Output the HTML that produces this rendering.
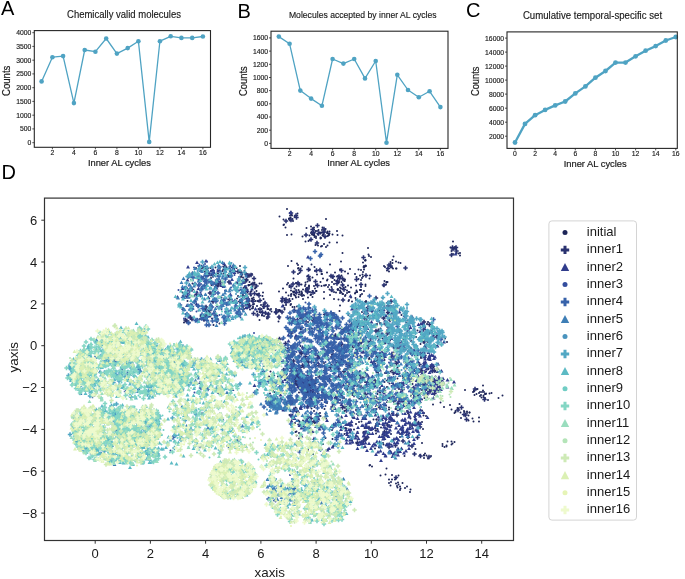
<!DOCTYPE html>
<html><head><meta charset="utf-8"><style>
html,body{margin:0;padding:0;background:#fff;}
svg{display:block;font-family:"Liberation Sans", sans-serif;filter:blur(0.35px);}
</style></head><body>
<svg width="685" height="579" viewBox="0 0 685 579">
<rect width="685" height="579" fill="#fff"/>
<path d="M41.6 81.4 L52.4 57.2 L63.1 56.1 L73.9 103.1 L84.7 50.0 L95.4 51.7 L106.2 38.5 L116.9 53.6 L127.7 48.1 L138.4 41.2 L149.2 141.9 L159.9 41.2 L170.7 36.3 L181.4 37.9 L192.2 37.9 L202.9 36.5" fill="none" stroke="#4fa3c3" stroke-width="1.3" stroke-linejoin="round"/>
<circle cx="41.6" cy="81.4" r="2.3" fill="#4fa3c3"/>
<circle cx="52.4" cy="57.2" r="2.3" fill="#4fa3c3"/>
<circle cx="63.1" cy="56.1" r="2.3" fill="#4fa3c3"/>
<circle cx="73.9" cy="103.1" r="2.3" fill="#4fa3c3"/>
<circle cx="84.7" cy="50.0" r="2.3" fill="#4fa3c3"/>
<circle cx="95.4" cy="51.7" r="2.3" fill="#4fa3c3"/>
<circle cx="106.2" cy="38.5" r="2.3" fill="#4fa3c3"/>
<circle cx="116.9" cy="53.6" r="2.3" fill="#4fa3c3"/>
<circle cx="127.7" cy="48.1" r="2.3" fill="#4fa3c3"/>
<circle cx="138.4" cy="41.2" r="2.3" fill="#4fa3c3"/>
<circle cx="149.2" cy="141.9" r="2.3" fill="#4fa3c3"/>
<circle cx="159.9" cy="41.2" r="2.3" fill="#4fa3c3"/>
<circle cx="170.7" cy="36.3" r="2.3" fill="#4fa3c3"/>
<circle cx="181.4" cy="37.9" r="2.3" fill="#4fa3c3"/>
<circle cx="192.2" cy="37.9" r="2.3" fill="#4fa3c3"/>
<circle cx="202.9" cy="36.5" r="2.3" fill="#4fa3c3"/>
<rect x="34.3" y="30.6" width="176.2" height="116.70000000000002" fill="none" stroke="#262626" stroke-width="1.1"/>
<path d="M52.4 147.3 v2" stroke="#262626" stroke-width="0.8"/>
<text x="52.4" y="155.0" font-size="6.8" text-anchor="middle" fill="#1a1a1a" stroke="#1a1a1a" stroke-width="0.15">2</text>
<path d="M73.9 147.3 v2" stroke="#262626" stroke-width="0.8"/>
<text x="73.9" y="155.0" font-size="6.8" text-anchor="middle" fill="#1a1a1a" stroke="#1a1a1a" stroke-width="0.15">4</text>
<path d="M95.4 147.3 v2" stroke="#262626" stroke-width="0.8"/>
<text x="95.4" y="155.0" font-size="6.8" text-anchor="middle" fill="#1a1a1a" stroke="#1a1a1a" stroke-width="0.15">6</text>
<path d="M116.9 147.3 v2" stroke="#262626" stroke-width="0.8"/>
<text x="116.9" y="155.0" font-size="6.8" text-anchor="middle" fill="#1a1a1a" stroke="#1a1a1a" stroke-width="0.15">8</text>
<path d="M138.4 147.3 v2" stroke="#262626" stroke-width="0.8"/>
<text x="138.4" y="155.0" font-size="6.8" text-anchor="middle" fill="#1a1a1a" stroke="#1a1a1a" stroke-width="0.15">10</text>
<path d="M159.9 147.3 v2" stroke="#262626" stroke-width="0.8"/>
<text x="159.9" y="155.0" font-size="6.8" text-anchor="middle" fill="#1a1a1a" stroke="#1a1a1a" stroke-width="0.15">12</text>
<path d="M181.4 147.3 v2" stroke="#262626" stroke-width="0.8"/>
<text x="181.4" y="155.0" font-size="6.8" text-anchor="middle" fill="#1a1a1a" stroke="#1a1a1a" stroke-width="0.15">14</text>
<path d="M202.9 147.3 v2" stroke="#262626" stroke-width="0.8"/>
<text x="202.9" y="155.0" font-size="6.8" text-anchor="middle" fill="#1a1a1a" stroke="#1a1a1a" stroke-width="0.15">16</text>
<path d="M34.3 142.7 h-2" stroke="#262626" stroke-width="0.8"/>
<text x="31.3" y="145.1" font-size="6.8" text-anchor="end" fill="#1a1a1a" stroke="#1a1a1a" stroke-width="0.15">0</text>
<path d="M34.3 128.9 h-2" stroke="#262626" stroke-width="0.8"/>
<text x="31.3" y="131.3" font-size="6.8" text-anchor="end" fill="#1a1a1a" stroke="#1a1a1a" stroke-width="0.15">500</text>
<path d="M34.3 115.2 h-2" stroke="#262626" stroke-width="0.8"/>
<text x="31.3" y="117.6" font-size="6.8" text-anchor="end" fill="#1a1a1a" stroke="#1a1a1a" stroke-width="0.15">1000</text>
<path d="M34.3 101.4 h-2" stroke="#262626" stroke-width="0.8"/>
<text x="31.3" y="103.8" font-size="6.8" text-anchor="end" fill="#1a1a1a" stroke="#1a1a1a" stroke-width="0.15">1500</text>
<path d="M34.3 87.7 h-2" stroke="#262626" stroke-width="0.8"/>
<text x="31.3" y="90.1" font-size="6.8" text-anchor="end" fill="#1a1a1a" stroke="#1a1a1a" stroke-width="0.15">2000</text>
<path d="M34.3 73.9 h-2" stroke="#262626" stroke-width="0.8"/>
<text x="31.3" y="76.3" font-size="6.8" text-anchor="end" fill="#1a1a1a" stroke="#1a1a1a" stroke-width="0.15">2500</text>
<path d="M34.3 60.2 h-2" stroke="#262626" stroke-width="0.8"/>
<text x="31.3" y="62.6" font-size="6.8" text-anchor="end" fill="#1a1a1a" stroke="#1a1a1a" stroke-width="0.15">3000</text>
<path d="M34.3 46.4 h-2" stroke="#262626" stroke-width="0.8"/>
<text x="31.3" y="48.8" font-size="6.8" text-anchor="end" fill="#1a1a1a" stroke="#1a1a1a" stroke-width="0.15">3500</text>
<path d="M34.3 32.7 h-2" stroke="#262626" stroke-width="0.8"/>
<text x="31.3" y="35.1" font-size="6.8" text-anchor="end" fill="#1a1a1a" stroke="#1a1a1a" stroke-width="0.15">4000</text>
<text x="124.0" y="18.4" font-size="10" text-anchor="middle" textLength="113.9" lengthAdjust="spacingAndGlyphs" fill="#1a1a1a" stroke="#1a1a1a" stroke-width="0.15">Chemically valid molecules</text>
<text transform="translate(10.3,80.8) rotate(-90)" font-size="10.2" text-anchor="middle" textLength="30.4" lengthAdjust="spacingAndGlyphs" fill="#1a1a1a" stroke="#1a1a1a" stroke-width="0.2">Counts</text>
<text x="119.4" y="166.4" font-size="9.9" text-anchor="middle" textLength="63.0" lengthAdjust="spacingAndGlyphs" fill="#1a1a1a" stroke="#1a1a1a" stroke-width="0.2">Inner AL cycles</text>
<text x="1.0" y="14.5" font-size="20" fill="#000">A</text>
<path d="M278.8 36.6 L289.6 43.8 L300.3 90.6 L311.1 98.6 L321.9 105.8 L332.6 59.0 L343.4 63.6 L354.2 59.0 L365.0 78.4 L375.7 61.0 L386.5 142.7 L397.3 74.8 L408.0 90.0 L418.8 97.2 L429.6 91.3 L440.4 107.1" fill="none" stroke="#4fa3c3" stroke-width="1.3" stroke-linejoin="round"/>
<circle cx="278.8" cy="36.6" r="2.3" fill="#4fa3c3"/>
<circle cx="289.6" cy="43.8" r="2.3" fill="#4fa3c3"/>
<circle cx="300.3" cy="90.6" r="2.3" fill="#4fa3c3"/>
<circle cx="311.1" cy="98.6" r="2.3" fill="#4fa3c3"/>
<circle cx="321.9" cy="105.8" r="2.3" fill="#4fa3c3"/>
<circle cx="332.6" cy="59.0" r="2.3" fill="#4fa3c3"/>
<circle cx="343.4" cy="63.6" r="2.3" fill="#4fa3c3"/>
<circle cx="354.2" cy="59.0" r="2.3" fill="#4fa3c3"/>
<circle cx="365.0" cy="78.4" r="2.3" fill="#4fa3c3"/>
<circle cx="375.7" cy="61.0" r="2.3" fill="#4fa3c3"/>
<circle cx="386.5" cy="142.7" r="2.3" fill="#4fa3c3"/>
<circle cx="397.3" cy="74.8" r="2.3" fill="#4fa3c3"/>
<circle cx="408.0" cy="90.0" r="2.3" fill="#4fa3c3"/>
<circle cx="418.8" cy="97.2" r="2.3" fill="#4fa3c3"/>
<circle cx="429.6" cy="91.3" r="2.3" fill="#4fa3c3"/>
<circle cx="440.4" cy="107.1" r="2.3" fill="#4fa3c3"/>
<rect x="271" y="31.2" width="177" height="117.2" fill="none" stroke="#262626" stroke-width="1.1"/>
<path d="M289.6 148.4 v2" stroke="#262626" stroke-width="0.8"/>
<text x="289.6" y="156.1" font-size="6.8" text-anchor="middle" fill="#1a1a1a" stroke="#1a1a1a" stroke-width="0.15">2</text>
<path d="M311.1 148.4 v2" stroke="#262626" stroke-width="0.8"/>
<text x="311.1" y="156.1" font-size="6.8" text-anchor="middle" fill="#1a1a1a" stroke="#1a1a1a" stroke-width="0.15">4</text>
<path d="M332.6 148.4 v2" stroke="#262626" stroke-width="0.8"/>
<text x="332.6" y="156.1" font-size="6.8" text-anchor="middle" fill="#1a1a1a" stroke="#1a1a1a" stroke-width="0.15">6</text>
<path d="M354.2 148.4 v2" stroke="#262626" stroke-width="0.8"/>
<text x="354.2" y="156.1" font-size="6.8" text-anchor="middle" fill="#1a1a1a" stroke="#1a1a1a" stroke-width="0.15">8</text>
<path d="M375.7 148.4 v2" stroke="#262626" stroke-width="0.8"/>
<text x="375.7" y="156.1" font-size="6.8" text-anchor="middle" fill="#1a1a1a" stroke="#1a1a1a" stroke-width="0.15">10</text>
<path d="M397.3 148.4 v2" stroke="#262626" stroke-width="0.8"/>
<text x="397.3" y="156.1" font-size="6.8" text-anchor="middle" fill="#1a1a1a" stroke="#1a1a1a" stroke-width="0.15">12</text>
<path d="M418.8 148.4 v2" stroke="#262626" stroke-width="0.8"/>
<text x="418.8" y="156.1" font-size="6.8" text-anchor="middle" fill="#1a1a1a" stroke="#1a1a1a" stroke-width="0.15">14</text>
<path d="M440.4 148.4 v2" stroke="#262626" stroke-width="0.8"/>
<text x="440.4" y="156.1" font-size="6.8" text-anchor="middle" fill="#1a1a1a" stroke="#1a1a1a" stroke-width="0.15">16</text>
<path d="M271 143.4 h-2" stroke="#262626" stroke-width="0.8"/>
<text x="268.0" y="145.8" font-size="6.8" text-anchor="end" fill="#1a1a1a" stroke="#1a1a1a" stroke-width="0.15">0</text>
<path d="M271 130.2 h-2" stroke="#262626" stroke-width="0.8"/>
<text x="268.0" y="132.6" font-size="6.8" text-anchor="end" fill="#1a1a1a" stroke="#1a1a1a" stroke-width="0.15">200</text>
<path d="M271 117.0 h-2" stroke="#262626" stroke-width="0.8"/>
<text x="268.0" y="119.4" font-size="6.8" text-anchor="end" fill="#1a1a1a" stroke="#1a1a1a" stroke-width="0.15">400</text>
<path d="M271 103.8 h-2" stroke="#262626" stroke-width="0.8"/>
<text x="268.0" y="106.2" font-size="6.8" text-anchor="end" fill="#1a1a1a" stroke="#1a1a1a" stroke-width="0.15">600</text>
<path d="M271 90.6 h-2" stroke="#262626" stroke-width="0.8"/>
<text x="268.0" y="93.0" font-size="6.8" text-anchor="end" fill="#1a1a1a" stroke="#1a1a1a" stroke-width="0.15">800</text>
<path d="M271 77.5 h-2" stroke="#262626" stroke-width="0.8"/>
<text x="268.0" y="79.9" font-size="6.8" text-anchor="end" fill="#1a1a1a" stroke="#1a1a1a" stroke-width="0.15">1000</text>
<path d="M271 64.3 h-2" stroke="#262626" stroke-width="0.8"/>
<text x="268.0" y="66.7" font-size="6.8" text-anchor="end" fill="#1a1a1a" stroke="#1a1a1a" stroke-width="0.15">1200</text>
<path d="M271 51.1 h-2" stroke="#262626" stroke-width="0.8"/>
<text x="268.0" y="53.5" font-size="6.8" text-anchor="end" fill="#1a1a1a" stroke="#1a1a1a" stroke-width="0.15">1400</text>
<path d="M271 37.9 h-2" stroke="#262626" stroke-width="0.8"/>
<text x="268.0" y="40.3" font-size="6.8" text-anchor="end" fill="#1a1a1a" stroke="#1a1a1a" stroke-width="0.15">1600</text>
<text x="362.8" y="18.3" font-size="9.4" text-anchor="middle" textLength="147.7" lengthAdjust="spacingAndGlyphs" fill="#1a1a1a" stroke="#1a1a1a" stroke-width="0.15">Molecules accepted by inner AL cycles</text>
<text transform="translate(247.3,81.1) rotate(-90)" font-size="10.2" text-anchor="middle" textLength="29.8" lengthAdjust="spacingAndGlyphs" fill="#1a1a1a" stroke="#1a1a1a" stroke-width="0.2">Counts</text>
<text x="358.6" y="166.2" font-size="9.9" text-anchor="middle" textLength="62.9" lengthAdjust="spacingAndGlyphs" fill="#1a1a1a" stroke="#1a1a1a" stroke-width="0.2">Inner AL cycles</text>
<text x="237.6" y="17.5" font-size="20" fill="#000">B</text>
<path d="M515.0 142.5 L525.0 123.9 L535.1 115.2 L545.1 109.9 L555.2 105.4 L565.2 101.5 L575.3 93.4 L585.4 86.4 L595.4 77.7 L605.5 71.0 L615.5 62.6 L625.5 62.6 L635.6 56.3 L645.6 50.7 L655.7 46.1 L665.8 40.5 L675.8 37.0" fill="none" stroke="#4fa3c3" stroke-width="2.3" stroke-linejoin="round"/>
<circle cx="515.0" cy="142.5" r="2.4" fill="#4fa3c3"/>
<circle cx="525.0" cy="123.9" r="2.4" fill="#4fa3c3"/>
<circle cx="535.1" cy="115.2" r="2.4" fill="#4fa3c3"/>
<circle cx="545.1" cy="109.9" r="2.4" fill="#4fa3c3"/>
<circle cx="555.2" cy="105.4" r="2.4" fill="#4fa3c3"/>
<circle cx="565.2" cy="101.5" r="2.4" fill="#4fa3c3"/>
<circle cx="575.3" cy="93.4" r="2.4" fill="#4fa3c3"/>
<circle cx="585.4" cy="86.4" r="2.4" fill="#4fa3c3"/>
<circle cx="595.4" cy="77.7" r="2.4" fill="#4fa3c3"/>
<circle cx="605.5" cy="71.0" r="2.4" fill="#4fa3c3"/>
<circle cx="615.5" cy="62.6" r="2.4" fill="#4fa3c3"/>
<circle cx="625.5" cy="62.6" r="2.4" fill="#4fa3c3"/>
<circle cx="635.6" cy="56.3" r="2.4" fill="#4fa3c3"/>
<circle cx="645.6" cy="50.7" r="2.4" fill="#4fa3c3"/>
<circle cx="655.7" cy="46.1" r="2.4" fill="#4fa3c3"/>
<circle cx="665.8" cy="40.5" r="2.4" fill="#4fa3c3"/>
<circle cx="675.8" cy="37.0" r="2.4" fill="#4fa3c3"/>
<rect x="507" y="31.9" width="170.29999999999995" height="116.5" fill="none" stroke="#262626" stroke-width="1.1"/>
<path d="M515.0 148.4 v2" stroke="#262626" stroke-width="0.8"/>
<text x="515.0" y="156.1" font-size="6.8" text-anchor="middle" fill="#1a1a1a" stroke="#1a1a1a" stroke-width="0.15">0</text>
<path d="M535.1 148.4 v2" stroke="#262626" stroke-width="0.8"/>
<text x="535.1" y="156.1" font-size="6.8" text-anchor="middle" fill="#1a1a1a" stroke="#1a1a1a" stroke-width="0.15">2</text>
<path d="M555.2 148.4 v2" stroke="#262626" stroke-width="0.8"/>
<text x="555.2" y="156.1" font-size="6.8" text-anchor="middle" fill="#1a1a1a" stroke="#1a1a1a" stroke-width="0.15">4</text>
<path d="M575.3 148.4 v2" stroke="#262626" stroke-width="0.8"/>
<text x="575.3" y="156.1" font-size="6.8" text-anchor="middle" fill="#1a1a1a" stroke="#1a1a1a" stroke-width="0.15">6</text>
<path d="M595.4 148.4 v2" stroke="#262626" stroke-width="0.8"/>
<text x="595.4" y="156.1" font-size="6.8" text-anchor="middle" fill="#1a1a1a" stroke="#1a1a1a" stroke-width="0.15">8</text>
<path d="M615.5 148.4 v2" stroke="#262626" stroke-width="0.8"/>
<text x="615.5" y="156.1" font-size="6.8" text-anchor="middle" fill="#1a1a1a" stroke="#1a1a1a" stroke-width="0.15">10</text>
<path d="M635.6 148.4 v2" stroke="#262626" stroke-width="0.8"/>
<text x="635.6" y="156.1" font-size="6.8" text-anchor="middle" fill="#1a1a1a" stroke="#1a1a1a" stroke-width="0.15">12</text>
<path d="M655.7 148.4 v2" stroke="#262626" stroke-width="0.8"/>
<text x="655.7" y="156.1" font-size="6.8" text-anchor="middle" fill="#1a1a1a" stroke="#1a1a1a" stroke-width="0.15">14</text>
<path d="M675.8 148.4 v2" stroke="#262626" stroke-width="0.8"/>
<text x="675.8" y="156.1" font-size="6.8" text-anchor="middle" fill="#1a1a1a" stroke="#1a1a1a" stroke-width="0.15">16</text>
<path d="M507 136.2 h-2" stroke="#262626" stroke-width="0.8"/>
<text x="504.0" y="138.6" font-size="6.8" text-anchor="end" fill="#1a1a1a" stroke="#1a1a1a" stroke-width="0.15">2000</text>
<path d="M507 122.2 h-2" stroke="#262626" stroke-width="0.8"/>
<text x="504.0" y="124.6" font-size="6.8" text-anchor="end" fill="#1a1a1a" stroke="#1a1a1a" stroke-width="0.15">4000</text>
<path d="M507 108.2 h-2" stroke="#262626" stroke-width="0.8"/>
<text x="504.0" y="110.6" font-size="6.8" text-anchor="end" fill="#1a1a1a" stroke="#1a1a1a" stroke-width="0.15">6000</text>
<path d="M507 94.1 h-2" stroke="#262626" stroke-width="0.8"/>
<text x="504.0" y="96.5" font-size="6.8" text-anchor="end" fill="#1a1a1a" stroke="#1a1a1a" stroke-width="0.15">8000</text>
<path d="M507 80.1 h-2" stroke="#262626" stroke-width="0.8"/>
<text x="504.0" y="82.5" font-size="6.8" text-anchor="end" fill="#1a1a1a" stroke="#1a1a1a" stroke-width="0.15">10000</text>
<path d="M507 66.1 h-2" stroke="#262626" stroke-width="0.8"/>
<text x="504.0" y="68.5" font-size="6.8" text-anchor="end" fill="#1a1a1a" stroke="#1a1a1a" stroke-width="0.15">12000</text>
<path d="M507 52.1 h-2" stroke="#262626" stroke-width="0.8"/>
<text x="504.0" y="54.5" font-size="6.8" text-anchor="end" fill="#1a1a1a" stroke="#1a1a1a" stroke-width="0.15">14000</text>
<path d="M507 38.1 h-2" stroke="#262626" stroke-width="0.8"/>
<text x="504.0" y="40.5" font-size="6.8" text-anchor="end" fill="#1a1a1a" stroke="#1a1a1a" stroke-width="0.15">16000</text>
<text x="592.5" y="18.6" font-size="10" text-anchor="middle" textLength="139.2" lengthAdjust="spacingAndGlyphs" fill="#1a1a1a" stroke="#1a1a1a" stroke-width="0.15">Cumulative temporal-specific set</text>
<text transform="translate(478.8,81.3) rotate(-90)" font-size="10.2" text-anchor="middle" textLength="29.5" lengthAdjust="spacingAndGlyphs" fill="#1a1a1a" stroke="#1a1a1a" stroke-width="0.2">Counts</text>
<text x="595.2" y="166.8" font-size="9.9" text-anchor="middle" textLength="63.1" lengthAdjust="spacingAndGlyphs" fill="#1a1a1a" stroke="#1a1a1a" stroke-width="0.2">Inner AL cycles</text>
<text x="466.0" y="16.7" font-size="20" fill="#000">C</text>
<defs>
<marker id="k0" markerUnits="userSpaceOnUse" markerWidth="1" markerHeight="1" refX="0" refY="0" overflow="visible"><circle r="2.0" fill="#1d2558"/></marker>
<marker id="k1" markerUnits="userSpaceOnUse" markerWidth="1" markerHeight="1" refX="0" refY="0" overflow="visible"><path d="M-4.4 -1.55H4.4V1.55H-4.4zM-1.55 -4.4H1.55V4.4H-1.55z" fill="#2a3270"/></marker>
<marker id="k2" markerUnits="userSpaceOnUse" markerWidth="1" markerHeight="1" refX="0" refY="0" overflow="visible"><path d="M0 -3.85L3.9 3.15H-3.9z" fill="#303c8c"/></marker>
<marker id="k3" markerUnits="userSpaceOnUse" markerWidth="1" markerHeight="1" refX="0" refY="0" overflow="visible"><circle r="2.0" fill="#344e9e"/></marker>
<marker id="k4" markerUnits="userSpaceOnUse" markerWidth="1" markerHeight="1" refX="0" refY="0" overflow="visible"><path d="M-4.4 -1.55H4.4V1.55H-4.4zM-1.55 -4.4H1.55V4.4H-1.55z" fill="#3762aa"/></marker>
<marker id="k5" markerUnits="userSpaceOnUse" markerWidth="1" markerHeight="1" refX="0" refY="0" overflow="visible"><path d="M0 -3.85L3.9 3.15H-3.9z" fill="#3e7eb6"/></marker>
<marker id="k6" markerUnits="userSpaceOnUse" markerWidth="1" markerHeight="1" refX="0" refY="0" overflow="visible"><circle r="2.0" fill="#4a94be"/></marker>
<marker id="k7" markerUnits="userSpaceOnUse" markerWidth="1" markerHeight="1" refX="0" refY="0" overflow="visible"><path d="M-4.4 -1.55H4.4V1.55H-4.4zM-1.55 -4.4H1.55V4.4H-1.55z" fill="#52a8c4"/></marker>
<marker id="k8" markerUnits="userSpaceOnUse" markerWidth="1" markerHeight="1" refX="0" refY="0" overflow="visible"><path d="M0 -3.85L3.9 3.15H-3.9z" fill="#5cbac4"/></marker>
<marker id="k9" markerUnits="userSpaceOnUse" markerWidth="1" markerHeight="1" refX="0" refY="0" overflow="visible"><circle r="2.0" fill="#70cdc4"/></marker>
<marker id="k10" markerUnits="userSpaceOnUse" markerWidth="1" markerHeight="1" refX="0" refY="0" overflow="visible"><path d="M-4.4 -1.55H4.4V1.55H-4.4zM-1.55 -4.4H1.55V4.4H-1.55z" fill="#84d6c4"/></marker>
<marker id="k11" markerUnits="userSpaceOnUse" markerWidth="1" markerHeight="1" refX="0" refY="0" overflow="visible"><path d="M0 -3.85L3.9 3.15H-3.9z" fill="#9addbe"/></marker>
<marker id="k12" markerUnits="userSpaceOnUse" markerWidth="1" markerHeight="1" refX="0" refY="0" overflow="visible"><circle r="2.0" fill="#b4e4b8"/></marker>
<marker id="k13" markerUnits="userSpaceOnUse" markerWidth="1" markerHeight="1" refX="0" refY="0" overflow="visible"><path d="M-4.4 -1.55H4.4V1.55H-4.4zM-1.55 -4.4H1.55V4.4H-1.55z" fill="#ceeab6"/></marker>
<marker id="k14" markerUnits="userSpaceOnUse" markerWidth="1" markerHeight="1" refX="0" refY="0" overflow="visible"><path d="M0 -3.85L3.9 3.15H-3.9z" fill="#dbf0b4"/></marker>
<marker id="k15" markerUnits="userSpaceOnUse" markerWidth="1" markerHeight="1" refX="0" refY="0" overflow="visible"><circle r="2.0" fill="#e6f4b6"/></marker>
<marker id="k16" markerUnits="userSpaceOnUse" markerWidth="1" markerHeight="1" refX="0" refY="0" overflow="visible"><path d="M-4.4 -1.55H4.4V1.55H-4.4zM-1.55 -4.4H1.55V4.4H-1.55z" fill="#eefacd"/></marker>
</defs><g transform="scale(0.5)" fill="none" stroke="none">
<polyline points="385 545 406 554 495 593 447 566 385 567 425 591 392 536 482 604 443 595 450 634 410 543 455 627 494 592 422 556 480 532 406 536 476 592 375 602 474 597 423 570 428 583 365 585 389 555 424 637 426 603 422 542 428 546 412 544 417 550 423 548 415 546 467 531 438 541 494 548 431 535 461 540 460 543 484 549 473 536 457 553 450 542 442 547 445 542 483 552 412 535 415 541 447 547 436 547 439 537 417 551 421 536 435 552 468 537 495 579 494 617 516 589 511 575 508 599 503 582 497 570 500 619 499 570 506 616 496 607 498 607 487 594 498 600 492 604 516 588 495 585 513 589 482 592 489 542 501 584 490 559 513 582 493 560 492 579 493 589 504 617 489 597 504 567 508 608 504 548 515 602 486 555 525 592 506 609 510 569 494 560 482 554 500 613 527 598 504 597 517 603 485 587 511 602 519 567 483 547 508 567 486 565 502 569 518 587 505 574 499 564 509 565 504 601 502 591 523 567 497 571 504 573 505 598 507 595 506 613 506 603 492 563 487 596 526 585 510 577 517 618 519 640 521 625 522 610 524 631 528 632 514 623 527 616 527 609 527 610 524 630 543 623 535 613 535 628 519 624 553 626 552 618 535 618 534 637 524 623 514 612 523 618 542 618 395 638 401 632 400 638 409 638 454 638 379 631 427 650 447 633 414 637 453 640 439 647 382 638 434 644 453 639 368 645 589 434 580 441 578 438 580 431 578 437 595 427 583 429 584 431 586 442 559 433 585 438 581 435 574 418 567 439 580 426 580 437 568 449 567 450 571 455 629 474 583 469 631 490 650 474 628 455 674 485 638 465 642 493 628 459 652 494 622 453 641 475 656 467 623 464 675 470 655 465 659 485 620 480 636 491 611 483 641 477 617 482 640 465 644 460 627 470 634 462 624 469 627 470 629 466 674 462 659 463 655 491 605 473 619 471 626 457 659 467 665 469 658 470 622 466 613 456 652 438 642 476 643 465 657 471 648 488 655 463 685 471 574 470 644 492 658 468 649 464 632 476 636 469 654 466 628 469 645 471 646 465 647 468 631 462 651 458 641 467 629 471 645 455 646 470 646 465 650 460 637 460 632 473 655 472 625 468 599 546 594 527 599 540 601 537 596 537 604 533 596 530 597 536 737 509 725 549 720 551 742 514 728 532 731 521 731 531 732 532 736 496 728 539 722 540 727 534 728 535 730 521 731 520 724 556 730 533 717 539 738 512 726 525 717 558 714 584 713 581 714 584 710 587 712 571 711 585 786 537 784 535 787 513 801 526 778 543 781 528 792 523 793 537 774 541 785 526 775 537 781 524 768 532 797 525 770 534 792 537 783 533 785 520 775 564 773 564 772 569 773 565 769 562 767 572 903 502 901 495 920 511 908 496 920 506 917 507 913 506 910 494 912 498 908 497 906 508 906 483 681 539 674 553 680 581 681 554 690 543 690 559 669 560 675 579 680 575 679 556 686 578 668 568 683 564 673 562 683 551 659 579 676 580 689 562 678 564 663 574 682 577 680 553 680 539 700 538 676 578 677 556 664 564 713 554 665 556 660 590 696 547 687 560 670 545 589 577 583 588 599 583 593 566 597 594 574 569 579 574 593 567 615 563 612 578 621 590 608 591 611 582 598 589 582 589 603 588 602 590 604 592 589 583 603 587 587 557 589 590 593 573 610 572 611 569 576 566 587 585 606 590 603 569 580 602 591 586 618 571 591 592 579 598 566 577 586 583 579 571 588 589 613 576 585 598 597 580 622 589 599 585 625 594 606 598 603 583 620 584 604 586 616 595 625 582 656 574 632 582 622 589 618 576 617 583 614 583 641 564 633 582 630 577 632 569 632 570 618 573 552 621 557 643 556 620 559 637 569 619 560 621 537 618 535 634 561 622 578 637 559 620 557 623 559 621 599 616 540 620 537 630 676 552 644 548 728 582 643 548 628 572 677 565 682 523 611 565 650 571 658 570 592 566 583 522 619 540 660 529 648 584 710 548 629 534 652 570 620 561 596 548 677 599 726 544 576 532 619 554 648 571 619 539 630 542 619 615 655 559 625 555 686 588 623 529 629 586 588 584 646 557 668 598 606 579 685 506 643 543 739 557 634 549 643 572 668 584 663 582 615 552 654 561 648 597 654 545 680 586 691 574 696 571 702 575 694 586 702 595 690 592 680 611 685 588 704 603 698 600 681 583 689 562 697 602 697 584 691 590 699 584 687 575 686 570 694 581 683 585 672 585 731 572 720 593 722 560 722 580 722 574 724 588 711 596 720 580 726 553 719 604 721 590 721 580 740 551 731 569 558 583 592 595 569 598 572 610 581 610 570 600 585 614 582 581 570 599 567 611 564 602 571 603 569 616 582 608 572 585 577 591 582 592 594 613 570 601 592 580 686 659 679 622 590 676 691 658 655 707 623 795 599 800 644 800 582 692 681 717 601 658 666 626 632 729 639 646 707 710 616 644 603 658 588 693 702 654 660 726 662 729 663 785 689 755 575 697 622 634 628 725 589 709 612 784 575 769 600 637 576 776 610 633 662 671 714 652 624 657 683 718 589 614 635 746 598 785 648 726 666 690 632 792 572 727 675 674 595 713 665 754 612 642 713 742 687 711 594 759 632 756 566 698 601 692 610 754 598 742 670 759 590 640 645 670 668 733 677 781 692 738 669 719 792 687 755 609 783 619 841 688 787 632 874 670 759 621 714 625 761 657 765 596 827 642 859 666 697 630 730 604 848 672 732 604 735 648 847 648 857 693 835 661 793 627 777 665 776 627 756 629 718 646 814 663 829 658 751 674 765 677 812 645 757 659 757 663 760 646 727 652 782 661 778 618 780 660 715 617 782 617 856 684 780 615 815 641 873 692 724 624 810 690 761 633 817 693 767 615 809 668 822 682 780 681 890 677 864 665 728 649 735 616 834 706 717 667 737 633 742 637 850 654 754 648 734 634 732 602 784 613 712 600 894 684 796 685 858 681 750 631 773 671 854 648 755 673 807 679 733 659 821 696 712 641 706 617 737 632 819 677 856 644 832 674 875 675 803 630 885 675 825 637 864 662 783 613 722 647 823 697 822 641 860 684 732 651 768 636 721 676 787 705 803 784 743 823 694 766 844 799 768 728 778 815 730 764 725 811 807 757 826 740 667 806 711 748 695 780 707 785 705 745 799 747 701 735 797 720 712 687 763 751 799 768 683 790 778 819 695 763 718 797 741 686 844 821 844 780 829 802 727 798 817 701 760 785 738 718 691 753 813 732 800 766 731 809 816 703 757 710 724 684 831 801 774 774 760 776 753 744 842 716 840 778 785 707 680 800 715 691 696 773 829 742 654 806 795 757 753 818 769 764 732 764 756 724 756 745 740 762 787 748 688 796 815 746 737 696 796 719 750 736 839 778 709 772 791 771 689 822 794 789 793 815 711 809 813 812 810 793 739 781 734 691 835 782 812 724 785 790 743 713 772 817 755 788 697 718 751 802 719 724 781 743 695 780 717 824 737 754 780 731 677 775 749 696 771 799 679 817 696 785 795 735 696 816 805 752 799 796 715 794 748 687 825 768 770 746 769 720 714 700 761 795 784 741 728 787 779 767 849 784 723 683 749 793 798 778 822 792 828 790 710 683 783 714 732 831 760 781 688 815 754 740 739 716 708 688 754 812 802 772 733 808 791 723 814 822 824 705 791 818 699 814 674 783 703 829 712 820 875 769 843 786 849 796 881 763 842 714 857 738 837 768 856 719 873 778 860 713 835 762 852 743 838 769 870 743 866 763 843 738 854 794 853 776 844 786 871 753 867 735 862 770 821 837 844 886 765 869 705 885 800 874 704 881 723 843 715 864 762 855 708 859 852 832 816 827 752 861 718 844 847 831 693 857 803 841 753 839 816 876 753 839 737 875 752 848 715 873 713 887 767 889 808 865 837 825 773 863 782 868 844 844 784 827 725 888 691 856 689 868 727 864 747 839 766 886 815 870 751 861 683 873 751 852 755 858 848 826 846 858 820 850 735 867 758 895 750 897 824 852 831 827 712 848 783 851 729 856 786 881 800 868 829 834 729 838 705 835 769 871 727 895 818 830 702 859 809 912 782 889 794 885 752 867 772 840 588 750 597 755 590 759 591 754 596 773 625 774 634 782 637 797 603 782 614 782 591 757 610 790 607 749 611 762 614 776 586 735 607 770 590 741 606 760 627 781 600 769 609 771 620 769 617 771 602 755 571 740 588 745 586 748 624 769 592 738 628 774 636 787 623 799 599 750 562 715 575 738 607 763 591 752 613 765 612 788 630 788 593 755 589 750 644 784 626 763 599 740 605 767 617 773 601 747 587 739 574 734 602 735 577 731 589 755 582 737 960 784 930 780 997 796 964 784 960 792 969 797 953 788 948 783 967 794 949 790 1005 791 955 778 968 784 983 786 966 781 976 800 948 781 946 784 953 779 963 795 962 790 967 791 966 771 958 786 972 787 970 796 970 788 971 788 979 787 971 788 921 825 934 823 881 805 919 808 900 810 934 826 917 817 958 843 939 825 903 819 911 824 947 843 937 831 888 814 909 826 911 822 937 841 922 836 866 809 939 825 958 835 915 816 928 822 929 824 945 837 885 888 893 893 903 883 909 884 903 889 895 883 893 891 885 892 905 887 889 894 831 898 853 911 840 910 848 916 862 912 856 917 848 910 848 911 850 907 790 959 797 969 796 965 797 951 800 973 820 984 794 972 810 976 778 959 792 956 792 967 784 950 800 980 761 951 781 971 771 949 782 964 821 979 805 966 801 977 784 959 814 973 795 975 778 966 773 937 739 931 744 933 740 930 649 818 644 815 581 822 600 849 627 845 662 854 644 851 593 817 617 851 600 817 628 822 635 851 623 817 635 828 585 830 641 832 651 828 629 846 591 815 648 856 629 814 640 826 631 845 585 837 556 753 523 760 549 784 541 743 540 787 515 780 546 782 529 761 538 753 550 778 596 884 627 884 667 892 589 821 622 829 598 877 647 835 644 852 599 843 591 864 586 849 643 853 582 833 652 837 593 863 669 888 651 876 590 846 680 845 593 871 606 841 598 866 626 908 664 860 606 853 579 830 653 900 616 900 637 837 597 841 665 878 594 891 646 888" style="marker:url(#k0)"/>
<polyline points="480 603 419 621 486 592 436 570 415 550 409 619 414 622 384 618 412 537 412 614 458 564 397 557 393 589 458 550 486 618 420 586 433 573 490 576 414 629 459 599 426 603 490 575 368 592 432 568 485 612 377 553 436 566 384 579 441 565 466 535 408 639 426 551 403 534 414 536 449 533 451 535 449 539 476 543 506 568 509 587 490 563 506 603 495 552 498 551 493 560 492 549 520 601 515 630 518 591 502 550 491 582 499 611 501 588 513 572 482 545 508 557 495 610 496 598 497 602 520 619 552 624 530 606 531 626 536 634 537 628 507 627 535 612 528 613 552 625 525 625 373 642 408 637 434 640 421 629 371 640 384 638 432 631 411 635 381 635 377 645 593 435 582 426 572 442 592 431 582 440 622 479 635 451 650 473 648 458 612 470 627 465 648 464 637 467 634 486 625 459 587 544 601 541 727 515 732 551 713 559 778 530 776 537 811 536 781 532 768 570 912 495 905 495 913 502 903 510 906 498 675 562 683 541 685 557 678 553 664 580 679 557 685 570 614 580 586 568 596 566 615 578 593 585 598 569 582 573 626 585 589 621 564 624 558 634 640 540 635 571 662 552 631 563 617 539 633 541 674 567 666 553 618 558 615 584 617 553 686 600 688 579 722 569 572 599 578 602 565 597 564 602 572 605 603 707 613 628 588 768 681 720 661 735 671 671 580 637 706 660 720 687 654 676 631 701 583 666 703 649 649 793 629 643 677 738 688 743 617 724 627 641 639 754 604 635 638 731 650 629 659 760 605 731 669 674 653 631 586 643 611 713 615 813 699 720 699 667 664 701 650 741 592 742 577 713 637 711 675 725 612 722 591 764 602 705 623 786 559 678 571 687 587 722 630 764 698 732 666 709 647 691 689 677 570 748 635 717 656 704 677 754 582 806 623 636 649 786 623 796 608 733 705 695 590 645 664 714 683 689 810 698 776 625 848 644 777 660 787 693 766 620 841 707 800 662 736 615 741 683 783 660 798 694 866 676 777 619 859 649 780 640 771 648 824 708 714 652 729 637 874 674 752 596 744 621 847 659 752 662 777 654 794 694 776 606 849 683 767 636 782 603 760 610 775 666 771 684 847 683 776 612 727 651 757 662 769 684 846 649 705 787 747 773 704 828 845 744 705 777 736 814 665 814 807 803 796 742 748 821 685 815 788 802 714 749 708 790 750 762 797 714 828 788 806 798 839 729 837 788 776 761 756 722 731 789 720 772 717 690 716 828 673 799 755 713 748 766 712 706 752 769 690 813 725 778 809 756 796 807 795 818 721 714 761 713 768 781 693 821 835 801 805 779 740 768 787 745 697 690 835 745 708 687 793 727 707 781 748 702 748 727 672 795 760 815 695 678 795 814 827 776 803 769 768 713 726 756 755 722 714 770 719 746 861 733 840 741 865 742 848 732 879 763 858 756 849 711 860 783 876 763 869 741 869 787 851 769 856 780 866 774 847 770 700 849 769 864 806 882 732 876 837 846 738 856 840 854 732 878 775 850 715 885 778 894 824 892 729 866 782 839 727 882 791 891 794 830 835 875 567 740 587 735 606 759 607 771 613 770 620 775 583 748 629 766 619 782 613 772 585 729 601 763 621 776 594 767 612 763 613 778 606 758 613 780 611 768 616 774 590 757 603 763 627 785 600 759 616 784 615 761 618 778 611 755 624 760 587 743 588 754 622 784 617 768 608 768 600 769 608 763 610 762 596 754 607 761 599 761 635 780 583 736 608 774 588 753 595 750 599 755 620 770 571 747 595 770 616 782 589 748 600 764 603 764 625 769 597 749 593 765 626 786 591 750 602 777 605 750 950 778 969 799 923 815 933 839 916 820 931 830 928 829 841 912 858 914 829 908 792 955 638 852 593 822 622 863 628 843 599 849 622 837 584 806 614 843 631 837" style="marker:url(#k1)"/>
<polyline points="477 627 448 527 412 522 495 581 492 615 390 601 394 584 402 589 377 580 394 525 418 632 375 591 366 617 426 539 380 550 447 573 397 570 442 604 429 622 355 594 431 564 433 576 461 589 380 552 375 560 411 546 412 534 471 605 469 541 375 586 375 594 365 577 424 591 397 577 379 549 421 609 429 582 495 595 464 559 379 570 492 591 393 608 448 598 378 634 474 565 442 571 374 611 417 595 497 614 461 566 376 534 418 546 423 542 469 545 436 542 428 545 486 565 487 559 504 578 511 618 581 425 911 508 565 612 616 514 701 592 619 782 591 753 609 750 678 688 633 763 651 766 654 691 588 728 689 755 651 803 653 670 595 638 610 642 577 670 643 647 613 802 678 691 609 696 692 773 571 704 584 734 605 694 639 715 683 685 612 707 685 710 651 798 669 675 677 648 570 759 612 648 599 738 565 763 571 713 682 746 615 750 583 803 577 682 587 737 622 753 694 656 636 725 653 680 584 739 592 671 617 730 684 710 646 664 646 779 688 661 677 677 694 747 767 619 875 692 849 657 809 671 821 704 797 684 852 663 846 647 823 640 779 686 812 675 837 706 852 696 716 646 772 631 807 700 749 634 770 642 780 667 784 626 769 614 828 700 782 654 859 681 799 624 711 616 824 633 776 680 743 644 706 659 837 649 840 663 742 676 786 614 735 665 735 620 730 642 844 667 722 634 735 657 783 677 821 655 720 660 729 626 747 602 764 623 743 621 735 626 850 691 801 618 871 665 704 618 867 670 734 640 764 667 716 669 756 641 842 647 767 608 803 684 718 649 888 684 758 679 731 622 770 674 766 761 818 806 734 767 784 793 770 713 764 771 833 785 711 673 675 804 755 732 833 791 684 787 717 749 753 811 754 804 828 779 805 800 806 769 829 740 768 786 745 799 708 710 687 770 671 803 668 808 730 745 758 722 836 789 749 721 823 758 671 795 828 794 760 740 796 814 812 755 791 745 724 704 711 691 737 812 770 809 786 771 766 817 706 780 752 794 727 704 784 730 697 750 701 809 716 678 701 697 729 773 756 782 818 762 797 723 833 761 834 783 745 753 713 701 785 765 719 771 795 747 692 800 778 795 723 794 771 810 701 761 720 751 775 803 785 712 737 814 758 797 798 802 743 723 803 802 802 783 702 766 789 715 828 783 721 666 750 823 787 770 749 770 764 704 733 800 710 769 848 771 698 768 713 698 811 734 692 831 670 817 760 706 770 705 808 797 807 811 722 828 837 753 693 728 796 774 727 692 774 745 840 803 707 825 736 684 732 772 752 794 698 696 751 731 784 710 735 750 820 755 720 762 737 785 816 823 784 706 821 723 721 756 795 797 772 792 719 726 704 781 759 719 735 763 741 706 807 766 712 679 663 794 683 809 698 800 786 718 782 786 884 760 875 775 847 744 849 743 859 711 862 758 882 779 850 713 848 704 861 756 850 718 850 776 859 745 876 779 862 742 878 754 859 717 877 765 850 726 867 758 846 705 859 714 857 716 857 760 860 719 864 736 883 742 872 782 868 772 854 778 863 730 849 755 853 731 855 764 867 779 858 780 877 770 866 711 856 786 864 729 864 779 867 796 871 781 855 735 874 760 848 729 844 747 853 738 852 733 879 783 851 758 878 778 879 773 850 763 885 769 848 755 851 724 875 777 844 753 851 732 848 725 836 723 847 711 867 731 853 778 875 743 870 714 848 714 876 728 864 755 868 717 878 757 849 762 841 769 856 773 847 765 848 788 851 761 863 710 853 731 837 739 835 709 857 705 848 778 875 737 827 776 884 769 871 768 886 757 835 780 865 787 856 763 832 770 908 764 848 770 835 778 839 790 851 790 895 774 887 766 853 761 860 770 895 760 869 759 870 763 845 786 877 772 851 785 854 788 797 880 810 849 682 859 716 855 832 827 708 835 697 849 818 890 731 886 756 904 700 886 687 855 778 827 703 850 728 871 751 890 794 886 771 912 745 892 774 890 821 824 745 857 742 897 778 843 715 865 773 889 792 856 819 857 698 859 784 838 809 841 788 878 694 869 805 853 751 823 818 834 754 849 683 834 784 892 825 848 715 897 841 820 782 905 780 853 734 901 841 847 785 840 705 884 748 888 759 884 769 877 774 857 751 830 832 860 729 866 767 866 846 825 772 837 788 841 812 902 667 849 796 903 754 883 720 884 798 819 795 885 818 897 801 819 742 859 712 871 800 903 779 888 676 830 773 864 828 879 840 832 836 863 771 856 733 854 794 877 711 876 793 876 761 893 796 897 799 903 805 840 796 910 717 889 757 834 781 903 737 845 771 845 756 862 766 832 726 837 752 909 815 858 774 871 723 884 736 855 776 888 715 837 694 849 777 873 754 846 724 851 810 838 692 860 712 872 818 883 817 845 678 866 836 826 697 873 727 872 805 856 795 904 768 854 717 877 808 906 693 880 819 832 761 902 798 851 764 873 779 903 744 856 778 851 779 836 835 861 786 829 794 846 769 868 703 843 818 866 778 864 828 887 726 851 698 847 810 827 773 869 726 887 813 863 791 908 733 855 693 886 828 815 832 850 797 864 722 888 781 833 728 880 820 854 767 835 789 886 786 826 732 863 774 865 745 867 804 867 785 913 766 878 740 844 700 864 817 873 732 852 732 848 825 856 739 867 701 860 787 908 762 921 831 837 807 864 728 834 682 853 805 859 830 831 774 832 738 887 820 846 790 905 828 849 735 872 767 907 731 837 700 880 767 849 730 893 694 865 677 843 855 835 750 855 764 839 836 848 796 864 813 869 816 869 801 858 767 873 814 861 838 829 780 860 692 849 758 847 766 847 826 863 805 863 758 840 812 846 831 840 771 911 759 873 803 897 613 757 587 733 626 778 639 793 606 762 600 772 596 774 594 746 627 793 580 735 606 760 611 779 618 761 621 795 602 762 617 854 603 856 619 835 599 851 567 819 567 818 602 817 589 837 588 817 573 812 602 813 567 820 596 823 616 832 582 830 625 863 644 853 610 855 589 820 615 814 637 829 603 872 623 846 614 839 564 752 556 763 547 749 509 771 561 790 492 733 544 697 542 688 548 699 502 686 561 687 542 683 508 680 502 710 529 731 490 691 512 735 530 697 400 765 465 779 438 785 404 827 574 758 665 894 637 838 583 842 616 847 632 853 619 877 654 841 658 897 618 864 655 900 628 877 599 902 639 858" style="marker:url(#k2)"/>
<polyline points="436 638 410 528 492 572 459 533 374 576 410 562 474 627 401 585 365 616 401 593 430 588 423 568 478 581 368 637 446 633 357 580 415 650 380 577 392 599 408 572 379 551 449 632 415 624 411 589 414 523 379 584 438 563 462 575 494 550 481 635 404 541 464 560 478 554 428 542 439 564 414 571 394 612 465 603 406 633 451 556 400 581 434 613 450 581 435 540 443 619 469 550 464 599 421 551 379 595 393 623 481 579 371 628 397 621 402 568 388 535 398 533 399 565 490 597 461 532 403 635 389 592 439 630 657 735 647 688 632 721 660 641 686 719 680 760 609 701 577 696 586 735 659 687 652 788 588 709 625 667 662 623 665 731 624 665 661 781 670 745 631 705 633 780 646 686 678 657 701 676 611 605 646 684 665 636 638 776 575 755 642 771 621 616 645 665 611 792 583 777 572 750 658 740 671 653 641 774 690 704 653 769 653 683 615 775 678 749 640 801 629 794 624 702 687 693 605 698 634 810 651 724 622 758 642 768 646 751 640 769 692 762 629 709 593 704 692 704 704 728 599 688 645 707 625 705 668 697 689 690 645 648 609 719 701 652 706 646 613 757 646 672 565 679 663 742 689 739 623 788 608 791 601 780 591 662 685 699 589 694 574 777 697 702 598 777 668 673 564 703 663 685 583 729 618 652 602 619 613 630 654 694 580 743 600 702 611 623 670 760 583 795 678 696 652 702 664 692 595 624 599 731 571 772 790 778 838 728 817 817 742 791 732 676 690 812 687 766 804 765 743 823 766 792 761 810 720 742 740 803 761 789 705 666 783 799 803 785 756 706 759 696 798 724 715 785 702 810 798 732 768 799 776 751 818 810 831 742 800 752 815 814 726 814 795 785 752 818 698 710 824 724 699 805 813 768 788 793 739 781 787 824 805 828 758 713 799 799 737 756 680 806 708 719 772 799 721 815 807 787 741 764 731 696 793 769 770 758 741 763 714 812 762 767 739 830 824 744 742 797 822 761 651 812 830 711 730 808 686 784 783 772 793 789 818 783 765 784 750 736 730 807 715 707 755 699 752 797 799 709 841 706 710 727 829 776 789 801 665 808 788 727 746 819 793 743 778 725 760 797 707 731 745 801 713 694 805 788 781 800 603 772 623 783 605 767 597 751 595 737 644 784 627 781 613 766 581 735 617 755 597 757 553 812 563 799 351 872 341 901 531 711 508 666 566 694 520 685 494 689 389 785 379 875 578 979 580 950 571 978 592 995 561 982 592 993 550 962 598 988 543 985 548 1001 586 969 551 1003 535 959 579 970 589 994 588 973 555 967 585 964" style="marker:url(#k3)"/>
<polyline points="479 561 412 560 442 613 481 628 406 573 471 606 438 553 453 608 423 564 410 574 411 551 397 552 451 638 426 568 396 612 491 607 474 626 418 562 366 595 381 619 389 604 429 599 397 612 405 576 428 627 470 602 425 547 409 572 496 600 457 632 434 560 424 614 460 592 479 618 472 612 386 555 384 613 413 552 484 611 405 636 484 565 360 610 447 601 428 583 413 566 439 534 399 532 390 568 403 555 462 552 406 557 451 558 379 591 403 637 398 570 382 610 487 584 477 623 453 623 374 628 455 622 403 579 410 563 474 581 483 600 456 607 371 577 436 586 405 617 432 603 377 646 413 650 391 641 433 642 418 650 414 641 449 647 394 640 432 633 395 642 404 629 425 642 447 635 449 634 450 642 640 512 630 503 642 509 621 517 688 697 624 735 616 775 692 656 681 788 679 702 575 635 690 692 621 696 586 742 589 776 594 800 639 660 637 675 653 648 652 769 687 722 610 795 595 796 628 788 684 666 661 795 675 791 604 655 613 756 581 801 600 742 686 664 695 694 587 707 712 655 646 651 596 724 574 740 602 632 597 675 672 636 560 774 618 625 618 799 609 753 668 747 674 693 624 716 633 796 628 806 582 672 585 772 655 789 573 716 589 662 669 629 617 705 635 793 696 660 626 765 587 642 613 790 667 770 671 721 623 752 584 705 711 688 595 675 617 616 699 752 620 664 619 714 598 733 643 676 701 727 655 759 665 717 699 662 644 813 690 724 717 667 600 752 682 677 636 781 683 750 583 695 595 690 649 683 643 679 583 728 609 723 623 791 660 688 657 703 634 644 625 669 599 628 697 654 693 677 597 621 583 781 680 729 590 804 597 765 684 713 659 763 656 652 593 678 679 645 610 791 598 732 672 771 657 658 642 756 660 791 619 807 677 768 705 684 682 665 698 764 693 702 666 724 634 782 612 768 673 656 595 624 667 712 652 732 579 702 664 695 598 654 592 732 587 622 674 700 673 642 615 698 619 803 576 690 637 661 595 644 671 695 693 679 592 656 629 630 586 637 570 740 706 670 594 718 608 783 687 703 583 647 623 792 578 796 613 632 619 638 608 760 645 698 677 717 605 777 597 714 646 666 600 762 687 754 672 709 657 794 575 732 581 791 675 782 640 666 606 753 640 672 602 779 607 616 599 685 663 630 635 651 646 772 616 717 653 740 583 761 675 735 610 677 660 703 670 694 632 701 649 687 632 742 696 695 663 784 679 643 657 689 630 624 586 750 711 686 579 770 637 638 639 774 611 777 668 778 631 677 597 724 574 713 601 667 618 608 581 713 650 743 621 811 580 662 663 638 644 732 637 707 678 650 691 758 590 749 611 619 585 712 704 674 608 704 704 720 618 756 607 799 602 777 679 782 654 794 590 661 693 649 648 707 599 713 601 623 708 683 639 629 654 639 606 664 696 726 665 631 644 791 590 737 566 723 633 745 644 651 588 743 614 699 633 803 563 750 581 796 666 780 633 671 604 772 568 751 641 646 681 727 664 640 648 763 625 621 651 794 644 718 640 635 707 679 673 633 602 744 600 765 649 772 587 692 619 626 686 716 660 648 710 656 669 684 611 730 662 674 602 665 654 655 652 747 702 686 655 676 575 757 697 690 670 737 648 790 665 640 610 769 635 684 701 665 612 729 647 789 686 707 624 704 629 658 656 629 658 658 648 759 590 688 590 746 687 712 657 718 619 787 651 634 607 796 576 794 647 757 660 752 571 702 578 663 581 795 649 756 677 730 634 637 664 671 622 826 620 666 673 713 680 769 600 740 585 784 616 632 585 751 603 721 678 743 631 733 607 718 695 766 680 702 613 649 676 640 662 626 675 650 584 662 609 813 635 655 611 707 640 769 623 683 638 790 688 704 667 688 696 740 652 736 672 755 587 771 619 658 589 780 580 752 654 684 598 700 585 697 676 772 612 777 583 805 670 711 726 681 650 646 640 640 599 741 650 712 590 658 633 719 594 792 602 673 640 660 598 645 580 719 696 747 575 765 611 660 679 703 610 758 689 679 685 794 573 732 651 713 644 723 668 678 633 759 678 697 656 706 656 648 663 697 690 658 594 649 606 642 702 652 673 775 625 664 629 790 682 774 662 685 614 764 580 775 677 714 674 675 631 792 616 699 706 729 664 656 699 642 645 771 649 733 708 680 678 722 674 676 563 781 662 798 592 696 670 738 641 689 613 703 676 651 675 636 666 662 678 693 626 648 563 752 645 689 580 626 630 809 656 695 691 713 579 646 606 632 616 626 679 708 678 700 620 682 578 701 698 680 585 730 705 680 664 768 664 673 635 816 605 751 628 771 586 756 689 696 630 641 604 808 632 780 578 777 567 676 623 724 636 804 654 667 586 761 611 700 601 618 681 721 685 636 625 809 653 792 648 699 608 787 626 762 618 734 574 723 649 769 652 803 699 704 683 657 683 698 580 663 650 745 629 635 631 745 585 693 607 716 614 804 656 754 680 687 653 706 637 636 581 673 646 780 682 726 630 774 586 765 619 808 571 748 714 707 707 645 610 696 600 647 583 711 608 718 618 778 671 696 561 768 704 713 617 694 633 764 664 772 572 655 669 685 644 796 652 680 654 691 688 700 635 647 606 629 621 765 591 780 631 708 669 731 696 682 588 703 640 745 710 689 695 733 602 808 607 682 615 633 621 804 692 662 702 659 694 712 702 685 629 795 643 673 628 696 627 717 569 695 622 744 583 734 644 779 652 756 664 703 654 711 684 729 628 707 569 703 582 711 598 631 576 659 668 636 588 753 699 690 686 706 642 644 663 673 641 732 657 700 579 757 651 625 603 773 585 769 629 730 692 777 615 744 632 672 672 730 637 653 624 664 564 696 624 804 631 644 617 717 638 678 645 758 605 770 605 632 615 679 613 780 709 682 577 715 681 668 649 753 669 758 586 800 723 613 806 692 785 649 816 659 882 679 765 624 795 653 879 666 798 691 810 633 867 639 739 592 817 651 781 718 744 712 694 767 792 770 718 728 826 703 709 753 733 713 685 804 735 796 758 766 768 809 680 788 713 744 696 808 774 734 716 754 836 771 764 721 756 731 823 803 710 786 749 691 833 779 793 798 825 708 787 796 847 778 705 749 715 715 750 735 813 748 733 705 823 759 712 705 802 798 830 797 752 740 741 788 729 781 811 737 701 817 766 798 840 798 816 774 818 756 822 782 805 775 743 767 793 711 741 801 817 717 705 753 710 762 825 722 719 690 749 768 781 789 729 798 753 708 704 760 746 803 803 714 731 675 720 697 732 751 747 706 657 793 831 706 723 779 717 819 836 701 664 818 817 802 732 711 804 814 719 724 676 840 829 806 676 800 845 734 714 785 780 787 755 739 751 695 782 727 787 756 833 796 792 788 748 729 817 751 747 797 702 826 768 709 821 749 745 755 728 835 712 803 815 729 783 757 706 773 752 706 701 755 798 771 697 805 779 755 783 800 836 782 823 736 733 699 735 825 738 758 720 715 815 728 810 746 758 805 812 795 799 795 721 764 746 775 722 747 728 681 757 750 771 710 700 808 741 814 742 703 700 801 815 761 829 803 624 768 605 785 617 790 599 767 613 765 599 747 590 743 604 757 606 759 618 778 643 809 623 773 599 762 600 771 608 777 623 788 607 760 574 725 613 770 539 810 552 816 548 798 552 794 542 794 573 808 535 802 569 805 544 800 556 807 548 805 555 804 575 814 541 800 534 803 546 813 555 819 550 801 546 806 535 796 538 807 535 807 542 805 528 814 561 799 544 804 576 803 550 813 554 799 570 807 555 808 543 812 581 807 543 803 585 834 636 833 586 823 634 843 633 828 611 843 573 816 648 858 610 857 645 854 666 854 612 836 617 857 510 785 552 796 549 767 563 799 527 743 556 765 537 763 241 750 245 736 252 783 364 780 229 723 242 741 185 792 347 735 285 684 193 713 351 774 347 712 255 747 238 686 179 884 209 876 226 836 193 903 235 861 194 828 223 920 250 840 283 847 153 881 251 839 296 908 346 875 511 721 520 722 504 705 416 778 427 735 402 776 400 892 475 882 440 829 457 892 562 777 520 766 546 765 588 986 589 977 537 998 589 1007 618 845 647 866 646 910 677 872 582 848 641 899 599 903 683 871 673 879 672 850 673 875 671 848 618 856" style="marker:url(#k4)"/>
<polyline points="401 541 407 531 466 543 469 616 450 641 367 620 378 549 445 556 470 620 393 595 408 621 482 601 410 636 462 546 434 563 426 581 408 613 401 557 446 611 431 617 382 574 459 535 450 605 484 583 442 614 492 552 441 542 367 557 485 605 461 540 415 633 401 579 397 562 473 604 438 535 451 542 400 560 408 630 411 589 409 598 461 620 445 525 465 637 372 574 461 553 454 623 448 632 446 607 452 581 482 600 385 617 413 636 387 604 363 565 450 586 452 622 457 606 432 597 422 618 416 542 470 573 437 594 419 602 424 591 483 585 432 566 482 548 385 546 369 619 478 631 386 547 443 600 491 628 390 537 446 552 490 585 379 569 485 584 462 549 426 588 377 594 467 534 467 570 487 622 388 572 430 634 423 565 452 596 420 615 420 576 479 625 448 564 365 573 484 579 426 599 466 539 430 575 411 546 428 599 404 611 458 608 400 589 404 543 437 531 446 589 459 582 432 574 369 595 393 598 438 557 383 551 460 578 380 619 369 575 356 596 376 610 453 553 433 651 378 553 482 568 467 530 431 639 422 609 449 572 590 657 663 741 614 651 659 725 627 775 634 737 686 701 624 811 658 776 580 639 567 702 657 786 689 739 581 760 611 732 664 638 646 712 646 683 626 648 619 764 620 621 584 746 606 677 615 682 632 724 701 716 676 650 606 645 591 714 679 696 620 739 583 723 661 731 621 668 617 694 690 670 702 667 636 762 574 704 653 669 692 663 639 668 641 705 662 781 648 680 677 774 633 749 685 706 624 692 595 715 573 770 621 653 699 679 684 725 614 805 642 718 598 743 631 618 640 687 592 732 660 797 700 692 690 755 594 757 678 720 702 675 621 743 711 762 703 774 732 704 799 751 802 728 717 698 781 760 777 745 681 794 744 820 711 810 687 763 714 814 812 722 717 728 702 701 702 699 759 719 728 795 713 687 720 701 742 767 710 767 722 797 703 813 790 696 754 765 757 765 825 809 765 762 773 742 828 728 759 780 739 814 809 718 833 741 741 773 817 727 678 791 764 724 710 688 691 757 712 757 707 781 730 831 796 767 826 745 696 820 809 797 813 759 750 820 793 772 788 757 736 709 843 771 716 826 708 656 735 771 817 813 826 739 832 735 718 771 832 746 769 794 805 793 832 794 679 820 765 780 779 707 705 825 708 754 807 799 818 812 760 765 737 691 772 702 725 725 724 759 724 812 720 787 725 779 829 785 806 776 763 813 754 774 734 739 769 775 799 716 784 782 665 821 697 719 686 845 804 872 840 825 779 906 703 877 778 904 755 851 838 869 831 846 811 886 795 900 785 882 815 873 759 891 795 845 700 872 762 894 754 846 791 916 570 801 522 808 555 817 554 808 552 824 541 796 555 817 546 805 553 812 543 813 552 826 560 812 533 828 557 809 547 818 547 796 554 824 560 802 540 821 541 794 558 804 555 811 571 820 570 799 551 803 551 815 569 805 562 813 562 817 552 811 567 817 557 815 569 815 553 809 559 806 547 803 534 803 541 813 553 816 560 814 536 807 545 804 547 811 554 802 560 817 654 831 632 836 605 831 649 854 577 807 611 826 594 841 652 825 649 873 651 832 615 822 593 819 621 842 591 831 608 860 588 808 638 854 298 721 143 760 198 713 276 783 202 711 281 741 362 736 296 703 335 704 277 738 255 758 260 749 308 688 296 714 299 774 168 698 277 777 305 769 160 759 264 724 219 724 247 677 193 680 161 787 299 723 178 707 256 664 358 764 200 743 162 763 168 748 154 757 321 734 349 769 364 734 299 770 310 751 310 764 348 723 307 761 332 764 333 711 366 707 358 771 181 842 316 906 215 825 206 821 173 878 180 877 182 845 307 848 260 849 183 840 202 906 296 863 192 889 293 873 194 899 183 906 304 839 207 876 224 891 194 884 228 828 273 876 229 929 307 903 231 829 253 871 267 860 296 855 231 868 222 820 247 823 263 874 293 885 260 847 257 861 267 879 274 828 306 880 244 841 243 850 229 856 260 847 269 825 300 872 369 881 537 718 546 720 482 714 496 707 481 690 524 705 526 676 466 696 533 681 528 726 471 693 517 695 532 728 532 708 483 723 494 701 492 682 540 699 506 679 485 676 507 685 485 698 497 704 499 696 451 726 397 756 441 735 442 773 454 785 391 761 422 770 438 721 416 856 485 852 479 853 445 838 364 813 376 860 373 852 520 767 551 770 539 971 591 971 577 983 558 990 586 999 588 980 596 987 572 1007 583 986 542 971 590 964 578 985 559 976 548 976 576 988 535 974 588 997 597 980 549 980 588 979 555 999 563 995 535 959 551 999 583 977 589 971 590 999 547 986 578 999 553 978 591 986 563 971 572 996 552 987 569 1007 575 977 582 1000 545 978 569 974 654 971 643 1006 694 978 647 1025 626 964 661 1026 687 958 643 995 675 1016 672 991" style="marker:url(#k5)"/>
<polyline points="419 627 437 533 434 635 467 573 440 614 464 581 463 615 407 575 395 542 450 564 427 552 474 606 413 556 436 601 463 526 467 574 436 641 414 620 482 575 406 542 470 616 386 561 373 627 485 617 411 575 494 612 496 606 417 644 429 622 378 612 481 593 431 553 382 559 476 562 472 588 478 594 451 626 404 592 443 629 371 633 489 593 813 637 766 618 739 634 752 677 889 683 726 622 756 622 810 683 733 629 729 675 786 662 745 655 844 660 844 664 863 692 734 656 731 654 878 685 739 615 845 670 750 634 814 616 854 661 784 659 787 617 851 673 710 626 777 660 777 658 875 662 781 611 703 741 829 707 796 827 790 739 692 748 798 794 799 713 820 819 728 758 799 745 818 735 709 724 740 830 746 763 826 804 763 783 801 808 776 698 792 807 739 763 711 724 803 740 752 787 725 727 808 724 731 811 830 708 842 814 707 721 716 793 717 821 827 727 750 737 716 818 742 719 751 700 739 785 773 710 784 823 736 767 721 805 817 762 731 724 768 816 715 726 744 787 823 709 784 787 783 719 739 767 756 812 835 785 799 774 668 817 791 753 748 755 759 742 534 819 560 803 560 807 542 816 561 801 547 808 540 798 572 816 554 812 550 808 559 806 560 805 571 811 547 991 581 1001 553 995 584 991 588 1001 595 944 566 970 542 998 593 998 553 971 563 987 595 1009 552 958 550 973 558 982 540 996 593 996 583 972 595 980 599 1000 584 958" style="marker:url(#k6)"/>
<polyline points="489 580 453 618 394 549 450 537 471 634 372 585 380 551 419 616 373 566 398 538 465 635 405 524 375 553 381 579 455 638 424 534 489 545 450 545 369 588 441 549 478 558 438 616 414 535 472 579 375 631 490 535 456 628 660 633 600 642 570 787 674 644 704 709 573 743 668 760 610 638 577 734 645 655 667 734 608 753 610 701 626 705 652 663 622 714 598 612 588 739 629 614 676 647 590 645 650 687 683 765 608 721 650 783 649 641 617 632 672 742 604 622 621 648 612 728 661 647 649 621 626 719 655 731 603 806 702 664 603 751 651 667 643 743 667 789 651 634 840 676 785 655 828 660 751 623 775 684 851 668 763 649 849 700 786 620 791 614 722 614 810 687 866 678 832 692 860 682 743 651 785 667 860 683 748 652 759 683 884 662 874 657 796 676 763 694 781 674 814 623 855 662 871 694 712 622 853 690 761 673 742 615 845 711 768 616 793 639 789 640 851 679 862 702 747 685 793 625 720 657 776 636 813 632 740 620 842 700 780 630 791 614 878 674 736 607 746 617 745 674 715 645 775 646 791 686 861 695 804 696 853 675 815 649 864 700 811 641 822 700 847 709 726 633 791 640 784 690 742 605 738 674 708 648 764 605 879 662 837 708 740 666 779 619 726 616 818 702 845 674 805 640 787 638 788 621 790 604 755 608 805 620 842 681 805 689 811 631 877 678 846 669 745 631 718 642 729 658 785 649 797 637 776 662 858 702 746 676 814 672 796 690 722 671 863 681 885 665 865 654 834 697 846 700 794 647 730 619 790 681 799 674 761 671 797 662 720 603 756 641 869 657 768 629 732 681 718 617 772 676 764 623 879 662 868 704 863 676 889 674 800 676 866 678 732 658 852 701 736 670 725 644 809 671 760 612 815 649 833 637 857 663 783 637 811 678 879 668 798 681 772 644 723 611 781 652 865 658 781 673 885 672 715 601 725 606 822 667 810 652 755 668 782 658 802 662 793 681 797 690 706 612 821 643 792 634 803 670 729 608 828 653 777 651 863 678 729 663 796 690 858 681 790 676 779 677 840 639 821 639 735 668 776 607 814 708 875 685 746 615 762 630 820 671 751 633 814 690 824 641 799 641 751 651 766 595 742 655 711 644 774 650 841 655 827 675 861 677 767 670 780 690 815 686 751 677 825 647 762 661 883 689 856 669 720 661 722 613 808 701 864 646 762 625 868 690 705 655 761 689 788 637 797 658 853 664 704 613 741 672 744 662 774 616 801 670 761 616 789 660 760 698 814 609 801 706 696 627 819 640 858 681 703 639 811 627 791 671 852 678 711 608 786 659 712 650 795 611 775 587 758 631 826 684 825 704 854 663 855 677 756 636 832 692 827 689 807 640 838 679 791 623 725 613 744 606 739 637 772 675 759 684 791 623 782 616 813 666 818 694 796 682 793 663 802 667 846 676 755 623 810 658 787 625 716 627 791 693 752 634 760 608 722 634 737 648 763 611 877 668 801 700 730 649 706 630 778 617 768 681 849 668 848 697 753 629 792 646 720 652 787 613 820 678 767 682 708 624 842 639 848 652 746 637 708 645 732 626 749 599 877 685 725 647 802 617 757 618 861 663 794 703 702 633 870 667 831 695 811 682 819 646 725 665 831 666 792 692 717 611 753 637 792 625 797 649 747 605 864 667 784 663 715 636 739 615 773 682 826 639 827 645 823 671 791 630 822 634 809 627 779 651 789 601 811 624 787 662 788 642 732 654 764 623 720 632 778 605 736 645 819 665 799 643 846 670 863 695 802 703 859 688 788 629 794 663 812 697 775 793 756 709 734 802 762 749 848 761 707 803 671 807 717 787 796 815 700 776 760 716 804 789 800 792 710 669 761 697 731 803 783 728 730 697 701 762 765 728 785 761 719 824 719 718 836 797 704 830 747 687 836 741 716 748 741 689 748 698 713 768 710 733 776 700 753 751 838 760 791 718 692 801 832 705 825 809 785 799 686 763 835 719 796 791 775 695 793 740 807 749 770 701 849 786 744 803 795 713 816 813 820 740 788 758 828 734 760 797 759 726 801 770 744 771 703 687 714 679 834 728 830 788 689 804 703 679 811 753 708 732 835 743 786 775 823 780 813 748 739 830 717 778 821 728 837 780 739 777 746 807 769 817 811 712 703 737 702 722 837 805 836 778 826 730 730 779 811 807 692 773 716 823 742 686 713 694 735 780 809 716 677 819 740 803 743 772 733 819 716 793 711 747 673 830 812 791 771 821 710 674 717 787 750 805 738 817 703 783 715 728 732 696 810 735 682 782 756 769 751 718 730 717 757 723 756 739 758 735 770 797 749 823 697 783 866 769 840 765 880 744 852 773 847 776 854 732 873 729 859 766 775 831 705 867 706 874 762 887 836 856 690 844 579 819 525 762 542 760 507 749 518 772 557 800 561 776 546 774 536 790 542 798 548 792 513 786 196 776 339 763 279 724 205 716 232 671 178 778 251 664 366 693 149 741 337 763 364 765 377 707 137 751 209 722 250 753 305 765 258 727 240 746 295 789 348 777 306 706 294 720 359 779 297 782 278 730 153 756 261 763 344 724 203 668 257 665 303 762 302 716 326 701 244 671 242 753 157 762 140 754 158 771 204 692 201 734 166 710 250 678 234 755 189 748 277 685 227 765 217 719 196 763 302 720 295 767 319 711 153 737 262 794 175 755 209 745 251 733 204 682 180 792 188 762 199 714 293 783 299 765 286 663 266 765 356 721 297 714 139 736 212 728 213 723 351 748 154 739 228 747 263 736 260 677 333 712 179 712 238 762 284 662 192 684 350 732 276 722 245 747 199 770 361 696 279 672 253 725 173 751 279 744 232 749 187 727 160 773 160 739 153 739 181 769 176 733 140 732 176 722 155 721 141 737 184 720 158 762 151 745 150 737 338 744 330 738 361 759 365 748 356 774 338 709 333 764 330 776 366 728 319 731 332 702 347 751 377 770 331 778 331 765 316 737 310 741 339 721 362 766 304 729 340 775 338 767 303 772 362 711 303 848 205 830 147 834 152 879 305 859 310 831 243 841 243 851 268 868 287 833 173 828 204 874 233 850 293 861 299 861 196 906 175 857 233 808 140 869 209 902 174 846 174 897 263 851 303 896 204 884 169 897 288 859 158 875 212 893 252 860 209 815 146 852 179 845 307 902 309 910 194 882 195 879 193 898 179 861 271 871 297 916 235 840 182 845 229 843 223 812 283 874 173 842 248 865 226 910 235 848 296 908 305 830 194 879 158 877 215 878 235 916 270 884 256 862 279 848 235 922 167 900 271 858 229 825 178 898 277 880 192 820 291 844 249 847 219 923 282 872 193 891 201 877 239 911 199 886 224 900 214 880 229 831 299 842 256 886 281 870 315 846 260 853 277 872 243 830 273 873 300 867 262 823 291 828 291 865 282 869 279 838 302 853 240 877 291 853 293 878 239 858 298 838 274 846 304 839 270 879 312 886 280 872 253 867 240 869 247 846 290 842 351 871 363 876 345 836 349 896 472 691 501 692 542 699 513 735 538 680 520 698 541 692 535 715 527 707 496 696 563 705 525 694 483 720 524 705 553 691 521 683 547 693 516 682 472 711 548 722 506 711 470 709 527 682 510 720 498 711 500 706 494 701 531 678 532 688 519 698 491 731 490 673 496 694 486 710 487 699 509 710 450 759 387 726 382 765 462 780 410 755 469 750 437 746 433 777 412 790 480 768 398 785 403 719 436 769 390 720 471 823 454 872 392 829 415 850 382 860 433 870 445 859 425 856 472 883 440 900 362 880 357 853 370 841 562 781 566 771 512 736 556 785 552 763 560 987 543 972 568 976 586 963 553 991 590 985 563 1004 562 979 544 996 548 962 613 857 608 848 636 887 674 865 676 893 670 889 628 884 677 850 676 888 645 879 651 856 584 866 659 859 631 838 674 1002 625 969 629 969 616 975 610 970 619 1018 629 1012 684 992 672 984 660 964 630 996 642 997 619 1042 656 1002 638 964 655 985 672 985" style="marker:url(#k7)"/>
<polyline points="450 594 427 585 389 583 459 525 390 568 409 538 408 538 455 625 464 616 479 569 421 629 476 574 458 592 471 533 462 596 366 626 468 605 396 591 474 615 463 604 414 547 422 576 435 525 432 548 389 547 461 625 379 546 405 631 451 550 384 613 429 528 467 541 491 605 369 585 382 601 396 546 433 562 460 604 398 548 415 571 388 634 446 569 453 619 414 542 405 604 366 598 470 574 487 560 420 559 474 632 472 575 469 578 440 523 397 643 358 608 482 591 479 611 455 538 443 603 503 574 475 582 471 602 471 566 389 544 460 527 425 592 391 549 411 626 493 592 415 596 399 620 401 561 431 579 351 593 484 638 405 596 381 612 415 625 362 614 401 533 358 612 382 619 392 555 478 567 440 594 413 578 372 576 493 590 487 595 480 540 362 582 443 605 398 555 459 640 459 547 622 636 665 753 579 640 610 691 667 741 631 807 677 758 630 624 602 748 596 697 610 780 594 632 618 747 640 778 599 807 675 728 695 672 602 669 630 802 646 774 780 660 778 675 866 653 752 632 751 607 869 690 870 667 828 672 713 613 741 660 843 672 768 608 824 664 776 649 863 652 806 653 792 606 781 667 730 642 750 652 780 620 828 665 732 634 776 683 777 680 864 695 723 635 718 626 711 656 714 628 814 652 760 674 766 687 724 641 758 666 815 657 749 627 740 631 759 693 783 593 712 627 784 619 883 688 807 615 726 649 721 647 760 604 709 638 711 659 735 641 787 621 709 615 869 661 863 698 857 692 863 637 842 681 832 695 805 641 853 672 750 672 741 652 814 675 784 618 843 665 806 682 807 675 753 634 696 790 816 798 811 754 712 667 712 664 763 732 743 774 729 760 763 790 741 759 827 751 665 804 716 755 742 770 834 787 814 717 803 811 745 698 762 767 807 759 812 765 732 798 797 731 730 803 734 735 742 730 813 718 699 703 743 831 729 772 778 790 755 828 687 787 686 824 782 789 712 742 735 727 840 792 734 727 732 805 768 725 744 824 722 719 762 750 708 764 756 759 777 776 677 788 777 761 763 708 728 746 784 787 795 743 830 707 756 764 729 697 673 821 828 730 722 762 710 789 802 812 731 811 691 747 765 714 687 825 757 756 700 760 783 881 825 873 745 902 801 899 736 864 724 894 681 848 792 906 688 877 756 886 762 832 788 913 684 875 816 886 829 844 761 840 608 846 622 846 585 848 530 761 513 780 500 766 559 752 542 756 550 772 552 787 544 769 525 761 518 761 248 681 241 676 177 702 145 745 242 655 186 721 231 696 306 771 242 712 313 745 303 753 182 694 300 705 361 683 234 752 274 734 298 796 223 709 234 793 308 757 268 751 335 711 171 748 365 704 190 770 272 754 148 751 177 691 264 736 232 742 181 760 285 700 295 773 272 796 245 681 361 751 260 790 165 778 351 716 171 760 325 737 235 669 193 699 304 781 186 768 374 755 183 783 179 774 348 739 243 733 209 716 242 744 300 792 265 683 154 773 275 768 298 697 335 738 251 734 142 758 219 666 176 695 333 722 178 701 257 675 284 666 282 683 296 674 362 777 305 708 333 721 268 743 223 686 149 761 341 708 173 728 238 702 158 779 272 692 309 790 351 749 307 696 175 732 172 720 258 679 284 730 349 759 162 746 358 688 277 771 171 787 313 707 352 792 217 705 202 750 296 682 345 722 201 712 273 647 298 694 341 782 160 753 281 731 171 769 229 759 310 722 275 724 235 724 349 735 235 792 354 696 303 769 261 780 363 726 296 687 230 726 240 754 301 727 161 745 369 763 286 680 208 725 244 735 169 739 176 774 315 728 307 745 305 794 237 754 260 768 353 766 317 772 262 712 172 781 291 671 168 762 279 723 334 732 172 719 204 735 211 715 350 711 280 774 230 707 174 753 356 698 352 772 219 763 267 692 235 684 319 693 142 761 247 773 188 778 283 669 309 762 356 768 266 783 192 700 265 782 271 775 251 695 267 673 288 698 355 705 176 758 159 722 178 754 263 723 298 748 197 759 282 708 323 714 294 729 180 784 184 773 327 760 226 671 244 775 301 697 167 741 273 684 285 696 363 728 325 738 214 668 194 714 375 790 330 734 174 732 152 768 202 701 174 769 236 778 309 707 258 748 162 760 381 714 207 698 210 732 231 751 241 751 246 685 198 694 193 764 181 712 354 771 175 767 290 694 307 750 324 716 230 730 226 729 224 788 292 679 360 694 217 662 162 743 220 728 242 683 228 688 255 730 298 707 163 750 178 720 294 773 321 703 205 730 177 694 270 753 331 699 279 735 154 767 234 757 335 717 277 732 295 723 353 774 242 743 270 793 225 718 144 731 283 785 300 701 308 732 340 721 260 719 181 774 204 686 320 758 256 672 256 761 256 709 300 700 223 713 358 750 147 718 360 782 193 784 277 781 173 770 354 765 143 749 328 777 301 772 294 771 350 792 168 711 151 749 168 725 163 730 183 716 151 761 158 730 139 755 170 735 152 739 182 749 146 765 152 757 189 765 179 755 144 738 152 740 185 749 170 725 184 745 152 769 157 745 171 765 155 747 143 742 155 747 181 765 180 734 155 767 165 711 140 727 165 741 188 750 165 712 177 724 345 760 320 707 344 721 369 723 340 701 352 737 340 739 367 754 344 764 348 735 325 699 310 715 346 757 349 748 312 701 355 718 315 783 331 750 361 749 358 708 331 764 335 759 315 745 387 730 337 696 376 738 318 700 358 698 362 699 348 708 352 760 377 730 387 769 351 765 366 712 334 719 320 768 378 712 321 766 328 780 342 767 370 730 359 715 355 745 315 741 366 730 332 768 376 747 336 710 327 718 344 728 308 720 308 698 358 759 325 709 322 697 359 701 336 693 314 691 363 749 335 701 307 704 361 724 318 752 349 759 383 698 333 761 298 772 350 712 359 717 366 728 331 704 328 747 302 780 350 710 343 737 359 777 321 689 302 784 329 746 334 725 312 768 315 786 318 780 335 778 357 752 294 752 316 746 301 700 231 670 247 684 266 670 258 715 249 713 288 658 216 661 260 681 251 703 256 702 288 690 270 683 276 675 310 858 287 868 307 846 274 888 323 898 244 844 292 907 283 892 249 844 181 835 294 861 287 842 198 917 164 864 147 865 267 874 291 903 299 830 259 816 276 894 201 907 265 825 193 882 296 903 222 872 167 861 284 894 319 886 196 823 156 877 306 847 192 906 187 856 211 898 262 919 207 911 274 853 262 866 297 865 302 839 228 829 198 906 303 876 158 878 184 898 286 895 317 841 295 868 163 891 199 886 319 848 300 919 255 875 266 929 271 877 229 818 245 810 295 896 266 847 302 843 301 842 260 935 191 821 274 896 246 850 310 896 296 889 188 830 306 830 310 876 235 905 262 889 174 863 235 870 188 845 280 845 249 864 224 905 284 825 219 826 251 883 242 914 272 874 150 855 279 862 179 833 237 867 156 864 180 840 192 890 208 884 321 869 280 906 253 909 298 862 196 903 316 906 292 867 268 884 316 911 269 879 164 893 243 862 201 824 201 840 320 831 235 866 156 883 241 829 183 903 195 899 229 910 211 874 263 866 228 809 151 884 251 837 221 820 217 877 292 813 242 845 181 847 265 910 276 910 223 874 163 828 190 918 296 906 278 825 263 879 220 834 317 829 232 907 191 832 275 856 199 841 233 847 173 905 269 880 223 846 255 833 308 867 237 840 161 830 206 823 176 857 281 849 159 877 292 872 193 915 308 901 203 892 315 842 285 840 222 884 216 908 195 881 230 851 262 856 180 916 169 876 151 860 170 878 317 896 257 856 215 880 154 852 186 895 178 895 197 908 262 852 287 913 240 925 194 901 179 899 268 856 236 843 296 832 210 845 162 890 268 886 277 830 299 925 217 833 155 887 295 899 161 874 304 924 149 829 209 852 194 878 178 883 258 916 260 883 283 863 261 861 249 917 320 836 293 886 295 845 219 876 180 828 259 871 233 921 300 925 157 859 201 828 211 821 164 844 318 853 240 860 274 886 204 880 149 871 183 877 227 824 314 829 242 846 151 864 176 881 270 871 225 826 293 918 234 845 311 920 257 867 264 853 229 821 298 848 288 895 207 907 298 835 249 851 200 818 223 890 156 864 290 847 224 884 191 826 247 926 285 926 304 822 244 864 316 861 308 867 304 846 283 853 305 874 240 856 263 870 283 867 299 858 248 853 229 862 319 848 267 833 256 887 282 870 244 862 255 864 247 856 254 865 300 888 253 886 273 864 257 847 247 863 263 853 237 864 296 879 313 854 236 826 268 865 295 886 311 872 298 872 252 881 234 855 271 827 276 889 284 828 290 839 312 856 312 839 253 863 310 873 319 858 255 883 274 830 240 828 305 858 243 836 248 877 236 847 278 841 259 892 250 868 264 856 302 857 263 830 243 875 304 828 254 834 303 844 313 856 277 827 271 866 231 876 264 846 286 871 273 874 283 884 272 832 292 838 291 853 280 847 257 831 280 844 273 862 224 833 294 835 260 864 270 868 253 836 191 909 197 834 167 850 189 858 203 829 151 826 194 860 194 853 204 812 332 895 367 912 349 882 337 874 326 898 349 868 337 814 341 880 353 855 336 838 353 928 343 926 478 711 554 697 517 682 476 702 506 725 496 703 505 722 560 717 474 719 467 698 528 720 497 703 520 700 494 734 536 726 533 705 528 695 510 677 494 729 520 695 553 712 539 690 526 697 500 718 496 700 494 705 502 723 499 700 554 693 493 686 490 720 508 707 512 684 563 688 550 716 488 707 557 682 517 690 553 680 542 696 506 702 543 703 487 700 560 706 501 694 469 720 485 730 478 698 519 684 494 698 491 732 564 709 475 705 487 710 520 724 469 721 534 682 489 701 493 705 545 722 502 686 495 731 515 731 560 691 517 724 551 720 518 722 525 738 530 723 530 696 541 714 492 718 562 708 498 722 505 719 555 712 556 713 478 707 519 683 477 694 533 732 505 685 478 691 517 676 511 678 463 705 499 703 509 692 470 695 489 691 497 698 499 670 490 697 487 676 512 684 493 709 493 685 485 705 497 675 486 672 495 678 509 683 498 680 479 695 480 675 520 681 479 699 469 692 487 708 506 687 512 685 494 683 515 690 472 696 512 677 498 687 503 687 473 713 464 694 433 728 384 733 438 779 460 776 414 788 417 735 415 733 455 738 396 751 410 726 388 738 437 751 395 732 395 784 392 728 463 770 453 748 402 796 405 787 438 780 444 759 475 771 448 751 391 747 443 786 464 746 444 775 402 771 460 795 458 776 461 785 425 785 410 719 416 744 413 751 403 767 411 752 388 777 451 777 407 739 424 750 420 743 399 725 421 772 494 833 387 897 358 869 381 867 357 885 391 880 410 900 459 861 503 848 418 834 449 803 409 792 392 820 496 861 392 879 425 855 506 844 430 851 459 879 492 893 381 854 397 898 431 896 406 876 395 887 464 863 478 824 466 859 472 895 434 872 400 838 410 875 392 883 420 858 413 860 377 865 442 894 420 735 454 727 421 718 374 832 430 801 405 818 412 814 389 824 407 806 368 831 387 791 397 847 412 821 375 805 414 865 394 864 376 799 372 864 543 779 521 761 532 779 547 745 511 759 522 745 519 730 561 758 571 745 545 755 579 786 566 794 530 766 573 780 533 768 534 739 564 769 555 777 529 754 531 777 522 748 527 746 451 938 456 940 460 992 496 949 474 987 493 990 432 938 464 962 511 963 479 952 491 930 445 961 441 924 478 922 441 946 452 988 502 932 548 963 573 990 590 888 598 1028 670 1027 623 977 542 926 574 1013 619 940 693 1027 524 913 645 1021 593 899 545 889 681 975 535 909 627 932 648 945 615 997 572 927 620 937 650 985 661 965 624 1016 691 1011 611 1037 582 896 543 944 671 986 611 997 603 979 672 990 589 992 557 890 657 1014 701 1003 572 890 592 912 583 1030 600 943 669 1011 600 948 579 1008 579 940 633 982 544 911 614 988 562 910 531 889 574 1009 542 1003 588 1009 575 1014 589 957 585 984 564 991 604 962 572 1000 571 978 573 997 580 974 559 1007 555 981 640 899 616 830 686 856 603 852 586 835 619 839 629 836 631 877 614 907 601 846 635 829 664 851 685 895 584 853 637 999 613 986 679 1009 624 1040 617 1001 685 1007 685 1012 681 1024 651 997 651 1010 645 1039 626 1016 655 997 632 973 684 968 664 970 664 968 685 1015 622 1026 651 974 640 969 637 980 675 1006 654 974 650 993 680 987 681 990 685 995 681 1006 612 986 651 1011 618 990 611 988 650 975 636 992 640 962 645 1030 666 984 647 971 631 974 620 1042 652 1001 622 1000 630 1018" style="marker:url(#k8)"/>
<polyline points="490 630 416 628 444 623 417 630 433 627 711 702 715 668 708 719 755 694 699 687 754 763 746 776 682 783 694 754 770 759 781 803 723 701 777 694 688 786 708 689 748 689 737 784 744 770 759 790 714 812 746 758 807 747 702 739 762 802 549 774 526 758 530 790 528 773 532 742 546 784 338 722 210 682 378 733 223 690 279 731 153 717 390 775 185 778 143 749 268 739 351 763 286 744 245 771 361 708 321 710 152 747 275 724 139 758 280 731 252 724 319 763 295 752 213 743 379 781 211 672 344 702 236 742 322 731 216 680 200 698 341 700 161 770 223 668 307 769 290 784 351 706 194 700 158 781 214 749 313 771 164 762 189 772 255 742 151 761 263 738 153 770 198 717 366 752 348 742 322 774 316 783 305 688 323 782 280 794 252 747 266 767 326 744 277 791 226 768 276 744 365 746 166 766 270 751 372 771 331 700 333 740 273 679 352 740 235 682 193 766 371 743 337 737 277 783 300 697 278 727 147 741 277 700 208 728 284 707 248 674 165 738 276 677 219 750 269 752 280 772 248 673 262 792 208 681 256 741 252 679 191 748 202 688 163 765 378 773 228 706 255 666 236 666 243 765 207 692 277 774 303 765 330 759 182 720 316 781 240 718 182 688 315 686 218 789 215 751 253 760 285 675 289 696 222 771 176 757 362 750 308 775 226 734 205 694 216 714 267 730 193 694 276 748 244 734 372 759 207 750 183 775 222 689 270 785 346 781 216 660 173 698 285 680 180 698 240 719 255 691 312 745 198 699 256 775 283 679 208 674 170 703 239 768 225 680 171 729 207 689 379 751 229 725 183 718 149 759 222 760 232 743 362 783 164 778 356 750 206 754 239 769 309 772 354 748 230 741 294 718 212 678 156 769 178 750 173 773 164 722 169 738 164 741 161 730 155 736 153 747 186 721 154 752 142 756 191 732 174 712 187 735 177 744 190 743 172 738 150 755 153 718 182 739 176 760 167 755 163 746 162 746 312 726 350 782 331 722 302 734 348 688 352 779 357 724 307 768 314 743 328 732 374 731 342 728 365 751 309 761 355 760 324 733 333 747 329 773 337 729 331 727 307 777 335 742 334 718 316 729 307 710 341 774 300 694 314 709 368 746 340 768 354 740 378 712 308 723 345 740 319 690 367 743 328 755 313 715 365 753 331 728 313 706 353 730 324 738 338 774 307 704 344 745 348 712 335 718 343 704 338 766 355 784 363 700 355 776 333 767 300 718 315 699 377 749 325 777 338 740 345 706 238 665 262 693 241 707 246 665 241 671 230 716 260 664 292 703 298 696 219 703 264 686 276 708 294 689 233 671 285 665 247 708 234 680 296 719 284 900 311 896 164 864 311 918 329 842 205 876 239 857 295 826 184 884 204 824 164 849 231 839 259 892 275 858 205 864 267 901 160 886 162 857 261 836 238 881 210 873 325 831 235 850 297 878 165 825 273 819 194 823 185 874 166 825 197 860 279 876 222 805 271 923 272 912 298 911 260 856 245 868 285 884 235 866 239 845 184 850 223 868 254 843 179 865 193 860 184 839 197 883 297 857 270 921 281 896 268 893 239 849 303 830 225 922 236 839 241 924 299 850 278 913 288 926 297 848 168 834 198 919 183 878 302 847 281 887 200 844 173 826 278 888 290 828 216 905 175 865 281 826 288 923 312 851 246 925 299 817 287 855 190 882 245 922 184 832 185 914 275 878 155 866 269 862 202 873 144 855 227 828 245 816 171 847 167 866 220 817 278 870 268 838 280 879 235 881 280 820 210 882 287 919 198 870 251 907 229 923 150 843 323 889 255 847 312 848 215 886 222 890 175 901 272 865 246 890 305 910 213 882 303 905 254 862 151 864 283 877 241 866 232 820 160 850 246 864 191 840 212 911 171 828 247 918 240 843 269 813 297 838 282 831 149 859 275 853 271 882 271 888 292 878 257 823 233 917 237 911 174 837 266 880 275 893 191 902 213 896 274 825 319 911 230 833 233 858 233 852 303 853 216 840 208 891 253 917 289 819 250 898 206 914 171 830 284 827 225 878 187 909 181 897 283 882 235 833 302 869 297 878 241 871 298 885 305 895 307 860 245 837 297 826 229 824 249 871 265 883 234 829 307 888 324 870 309 878 296 860 260 892 261 841 268 828 243 851 283 829 289 835 252 831 254 851 278 849 251 868 244 825 287 848 290 862 298 828 239 858 268 867 239 885 287 836 245 858 307 877 298 834 274 829 233 825 265 878 248 893 308 874 316 821 233 847 253 876 295 831 241 887 275 850 256 867 301 848 315 867 183 898 191 829 182 873 169 828 153 833 195 869 167 894 180 855 174 869 173 860 186 837 161 821 361 836 339 823 341 818 355 876 327 860 340 905 346 855 350 895 367 849 348 828 355 822 504 675 563 698 532 717 473 700 510 689 532 690 534 699 510 689 564 726 552 735 501 723 484 691 548 697 543 686 496 728 544 704 490 703 472 702 532 717 514 689 491 694 467 703 533 716 524 706 537 685 513 716 499 717 536 710 486 713 490 689 519 725 535 688 477 703 550 713 512 735 560 698 555 701 514 716 567 695 530 726 566 702 505 682 473 702 517 690 516 690 559 706 503 701 501 681 501 695 466 701 516 691 495 672 480 704 518 691 480 675 498 679 488 693 505 698 498 685 487 690 491 687 494 699 476 677 474 687 505 690 519 672 503 698 502 680 494 680 477 685 476 716 474 685 506 676 499 698 442 720 407 791 398 727 395 768 402 767 428 751 443 722 395 786 425 776 398 788 445 766 460 768 472 751 405 786 417 775 450 722 413 780 426 778 425 778 459 780 421 765 408 764 393 735 431 743 401 783 471 794 455 764 452 722 451 716 416 744 398 781 441 759 431 744 423 763 445 747 434 762 469 790 441 760 392 853 481 855 499 794 514 854 394 905 421 805 400 793 419 915 486 874 391 866 417 852 433 871 481 885 456 864 424 883 390 843 404 882 458 856 449 851 489 890 456 871 458 863 484 837 418 895 468 839 469 836 400 849 426 834 481 879 389 881 454 884 464 856 438 875 429 836 377 894 422 741 444 745 412 732 437 740 419 747 428 741 400 806 371 816 413 804 361 821 367 799 372 809 397 818 391 823 379 881 388 860 394 832 373 808 573 768 538 760 574 783 552 778 517 748 551 783 528 786 528 767 558 768 553 795 551 791 539 781 524 760 575 770 450 939 480 932 510 949 481 988 462 950 450 949 429 950 495 975 512 953 504 980 451 995 461 965 444 947 483 956 492 943 465 942 500 971 461 997 498 939 475 960 443 971 505 943 509 947 506 941 481 983 486 958 676 1030 544 943 671 1023 593 999 582 981 552 933 653 908 665 999 517 919 637 892 545 1016 609 969 629 978 563 937 566 968 621 945 595 973 619 1022 686 1008 571 940 591 928 570 1021 597 917 579 980 560 890 604 955 580 880 554 894 565 987 653 970 651 954 677 996 662 1041 671 1001 656 987 642 884 636 922 636 952 618 1021 679 1009 644 1037 650 1040 683 965 621 973 686 979 628 956 624 996 603 976 644 980 635 979 663 987 621 974 690 1007 663 987 622 1003 650 967 647 988 634 1028 632 974 623 1007 683 988 690 976 615 1002" style="marker:url(#k9)"/>
<polyline points="614 694 702 697 635 747 658 787 641 748 652 685 625 711 646 704 599 797 705 674 589 746 653 716 629 797 659 657 677 670 622 691 640 708 645 691 832 714 723 746 740 704 741 812 830 799 732 686 770 701 678 822 803 792 810 806 740 762 719 727 807 790 729 692 813 763 712 672 814 722 746 792 670 802 719 828 789 732 678 819 724 782 788 739 696 815 727 791 845 761 702 682 803 822 707 813 702 741 821 740 719 679 764 687 798 789 710 727 668 789 716 754 818 813 791 701 699 789 704 768 838 807 699 675 754 769 551 804 564 744 545 749 518 753 527 767 556 747 510 754 254 777 152 777 299 689 196 686 264 669 249 661 202 796 208 730 218 742 340 751 336 729 216 683 348 744 351 784 265 783 360 732 286 784 193 687 174 724 311 733 160 728 197 703 362 785 373 729 341 731 290 781 198 693 243 754 254 787 296 658 270 794 239 665 259 699 282 784 204 715 265 747 181 761 259 747 168 692 182 678 192 782 333 706 280 785 234 756 365 708 318 721 320 772 337 715 247 719 257 665 293 786 361 707 176 779 156 732 262 742 147 735 190 707 210 727 241 668 318 714 371 765 222 791 169 779 277 666 294 683 272 743 351 776 227 727 198 769 280 673 336 716 290 702 200 730 351 748 372 696 277 711 331 755 321 734 190 695 170 776 190 735 202 746 236 676 167 708 173 765 331 742 201 780 240 751 183 771 161 702 174 765 346 786 350 781 224 673 321 727 308 783 269 682 159 756 251 791 281 658 293 683 343 743 306 746 374 705 233 670 246 734 335 735 185 755 217 665 159 780 275 725 304 703 156 711 350 780 282 773 250 735 284 722 170 708 364 721 160 707 135 756 211 732 231 673 210 807 254 756 223 752 321 745 167 704 191 703 201 687 188 680 303 694 155 724 144 770 182 689 287 797 161 757 357 704 316 702 267 684 353 728 173 759 155 733 307 769 304 680 238 728 294 742 272 773 237 757 213 744 270 720 197 735 384 758 269 771 279 672 183 790 216 730 140 754 217 741 276 694 223 784 285 733 299 769 196 712 183 703 265 785 182 706 277 765 329 743 301 713 301 788 218 677 163 782 211 689 183 694 195 766 150 755 156 766 289 679 347 754 238 757 354 739 243 759 268 686 228 750 169 768 322 750 343 747 353 787 266 677 249 680 346 730 213 774 258 731 360 689 357 755 319 775 207 776 174 702 261 671 245 700 300 715 216 749 331 716 335 732 256 694 255 698 248 747 336 750 343 738 294 723 310 686 151 736 239 771 260 782 363 782 358 767 188 761 289 775 255 732 160 786 236 728 267 736 185 779 272 699 158 727 343 751 361 700 211 745 345 745 211 692 227 753 266 682 259 731 267 718 204 712 241 741 293 695 326 768 329 726 217 729 291 786 339 742 227 737 272 670 366 762 252 678 177 778 257 672 364 764 204 732 342 750 346 727 153 760 200 666 366 711 353 781 250 769 374 693 215 676 267 781 352 769 222 742 225 746 248 731 284 673 172 684 339 708 252 672 319 786 296 758 249 742 274 758 299 692 219 690 271 740 258 667 315 721 259 693 359 762 258 751 173 769 190 747 153 759 191 741 178 749 157 750 180 723 184 749 172 717 169 709 142 728 170 742 181 739 183 728 176 756 163 724 148 758 153 762 154 767 155 729 165 724 148 735 158 755 169 745 177 766 160 745 182 742 165 723 176 719 165 745 167 738 170 728 156 754 177 740 133 736 148 744 161 753 146 740 182 761 176 740 358 694 320 707 355 715 358 730 354 758 373 756 340 724 353 748 314 769 350 769 325 723 365 701 359 733 357 743 354 716 346 703 375 760 371 738 374 766 309 714 365 777 360 755 341 693 347 773 314 772 349 773 321 729 351 736 376 752 329 774 354 693 365 770 335 768 365 739 336 699 374 753 345 732 333 702 322 741 327 769 334 746 307 738 314 738 324 768 311 709 327 750 346 746 372 703 328 747 358 772 360 756 331 723 324 765 319 766 298 732 303 763 330 761 310 781 323 747 363 775 311 700 324 769 337 726 336 762 310 742 361 704 326 692 327 735 347 742 341 764 389 767 334 711 382 699 338 764 354 710 367 768 297 708 324 714 301 761 307 743 339 709 331 730 346 699 344 783 377 703 383 760 371 726 315 763 374 747 367 700 307 757 338 780 341 717 304 736 323 742 337 779 362 697 310 730 240 670 301 696 279 656 262 692 232 682 214 679 276 680 246 679 233 713 206 706 208 701 239 723 292 653 286 709 294 692 218 688 293 707 222 683 249 859 288 880 285 879 206 827 173 847 255 858 308 912 156 894 172 866 297 903 174 884 213 883 214 844 215 872 296 868 218 869 181 861 149 844 237 831 190 884 315 902 310 829 297 884 169 904 281 914 208 886 209 895 257 868 266 815 258 881 167 838 268 876 178 852 275 859 162 826 223 822 181 872 241 844 235 884 189 919 245 860 256 850 260 890 285 869 245 865 313 876 166 825 206 819 186 879 274 830 165 874 189 903 203 873 268 852 149 880 289 826 276 839 281 885 217 893 169 860 182 892 176 900 257 846 263 927 215 826 186 843 195 848 153 849 259 858 200 876 294 869 299 841 176 843 176 834 313 860 275 914 267 854 256 847 216 868 152 888 245 836 199 839 191 843 180 832 209 815 298 881 283 836 157 836 167 837 288 906 284 841 151 867 200 897 307 900 286 884 220 820 241 921 170 855 272 856 221 925 157 870 278 909 169 852 217 912 206 855 182 873 261 926 226 818 177 892 205 838 235 846 167 895 215 919 237 865 182 868 257 834 302 822 180 830 203 882 307 924 250 831 222 877 237 855 312 920 228 918 165 841 284 877 237 864 293 872 148 864 295 863 264 847 240 834 311 913 303 899 234 822 245 918 170 833 313 905 262 825 236 835 304 897 244 856 239 866 150 867 184 912 197 892 163 877 308 890 220 816 276 872 274 859 235 916 217 835 263 876 310 855 167 882 318 856 310 911 223 890 301 839 150 873 208 874 169 852 253 907 186 899 230 841 251 922 199 843 180 895 191 841 240 849 252 873 170 883 317 832 172 851 259 876 240 835 208 865 237 863 251 838 151 876 279 887 317 917 172 906 297 914 310 846 264 894 155 846 260 826 224 917 163 892 172 870 211 872 249 829 267 868 181 903 255 855 190 891 254 843 178 867 158 885 199 826 162 855 172 846 240 905 244 862 305 837 190 888 197 825 236 875 299 834 201 841 315 836 315 825 223 822 210 870 244 903 216 887 200 876 206 888 178 916 316 845 266 857 237 817 235 819 202 839 241 813 255 921 286 924 285 874 234 843 197 874 289 825 251 915 242 838 238 899 301 842 290 876 252 896 283 848 262 820 247 844 307 849 264 850 260 868 239 867 247 850 249 823 243 826 255 846 240 884 267 858 291 879 277 843 275 870 242 835 297 832 296 838 234 846 278 849 265 878 282 842 299 883 309 853 272 841 310 884 254 875 274 878 277 833 249 843 243 847 286 884 287 881 277 883 312 867 264 856 305 837 294 873 275 876 302 874 310 852 257 865 305 854 289 833 259 836 258 885 243 856 246 875 235 865 312 859 316 859 240 873 226 860 239 875 271 832 279 863 253 830 284 840 296 875 292 890 288 839 249 861 277 830 250 886 238 820 304 867 258 841 288 874 258 837 226 867 262 850 244 848 236 843 257 883 265 837 303 878 296 859 294 839 288 831 262 854 232 835 294 857 259 832 279 830 305 837 237 831 162 853 189 906 152 852 188 880 181 859 177 875 164 864 155 841 186 831 175 848 160 866 204 831 160 873 171 849 168 880 174 845 191 858 198 848 164 867 189 896 167 837 354 818 345 904 348 827 335 886 354 824 366 816 351 885 348 854 351 811 330 914 503 729 517 738 531 698 514 704 530 677 529 706 533 674 543 715 491 707 570 725 553 713 479 685 513 721 522 707 484 684 559 715 551 683 537 702 529 704 528 707 503 734 494 719 506 678 546 704 490 714 537 726 516 709 517 737 548 692 516 706 508 699 483 715 504 703 555 732 523 679 510 720 509 729 520 717 483 691 559 727 554 715 525 678 568 697 507 682 535 708 530 714 549 684 535 698 502 691 516 680 530 693 526 715 472 713 523 700 501 727 558 714 532 689 546 698 509 696 495 709 521 692 542 685 550 708 545 681 489 683 555 705 569 712 500 694 533 696 509 711 539 688 487 697 472 709 522 699 500 681 478 722 536 732 559 699 514 728 488 720 480 719 496 691 518 678 476 733 477 727 480 692 542 714 531 714 491 681 495 715 465 712 491 680 475 698 481 697 473 705 510 697 482 709 505 676 505 711 489 684 513 680 496 689 473 698 510 678 496 673 508 688 492 702 474 700 469 686 472 704 488 701 518 682 460 688 478 692 505 674 506 679 474 704 484 690 468 701 468 684 418 753 427 734 423 772 403 734 406 791 464 748 435 717 458 760 434 782 472 771 416 742 461 786 426 740 451 716 434 742 441 789 402 734 441 763 411 781 410 793 441 737 451 718 444 727 397 746 423 730 450 756 447 723 415 753 403 765 430 781 436 765 475 777 425 744 403 771 435 768 425 736 404 773 448 735 446 781 396 738 446 726 450 759 463 745 408 778 434 738 463 773 433 731 460 744 397 785 438 743 443 789 377 874 516 844 355 831 430 854 493 857 356 828 458 834 437 816 460 856 465 800 448 851 477 875 430 859 480 815 435 880 491 847 374 818 492 853 467 830 513 905 371 825 439 840 426 852 383 823 469 872 351 859 498 856 415 812 455 867 439 906 471 894 517 849 398 829 429 873 417 849 427 883 370 856 460 879 453 846 421 867 390 892 436 875 446 877 465 887 485 862 385 882 478 828 407 828 396 848 390 824 469 835 458 851 458 890 441 837 454 848 445 882 423 892 391 838 417 848 428 853 420 735 428 746 432 748 399 727 431 748 421 734 425 732 418 729 402 727 373 861 401 819 374 823 384 800 346 803 393 805 366 852 427 863 392 853 393 841 383 850 371 830 419 805 386 805 405 870 398 866 396 855 418 810 399 826 398 855 559 764 529 749 543 766 546 754 539 798 526 772 558 786 436 946 453 960 496 942 468 935 487 986 508 948 446 986 464 971 461 939 467 994 460 963 451 957 507 945 493 966 443 985 466 944 466 982 453 987 486 945 433 956 478 965 488 968 482 922 444 986 461 937 460 987 484 924 458 937 447 958 485 969 445 992 500 935 478 942 507 968 426 976 436 946 476 951 506 938 481 935 484 939 496 945 487 938 558 1025 648 1048 595 950 539 902 623 907 563 990 575 931 540 906 602 985 695 988 586 1018 675 1008 566 910 664 1041 561 1018 545 898 589 971 545 986 679 1003 541 951 670 949 649 914 614 952 595 1022 604 966 649 986 643 887 671 1039 601 884 614 977 624 894 565 968 548 943 693 1011 583 893 647 972 541 892 634 929 560 923 629 1016 598 981 689 1012 555 1029 570 939 635 961 684 1039 529 911 647 911 624 918 578 938 682 1033 542 911 662 1019 674 1027 585 942 634 1042 605 897 610 960 555 914 656 981 582 910 533 931 543 929 683 1015 548 898 580 1043 609 953 689 1026 627 1014 632 944 660 1021 649 1002 688 981 585 997 553 1023 605 903 633 864 618 862 666 869 649 912 618 851 661 886 647 851 610 835 634 853 602 869 604 846 668 1012 618 991 672 975 616 1012 679 1026 609 997 673 1011 624 971 610 1017 625 989 677 1040 644 980 676 964 637 970 664 1008 657 1022 628 979 617 977 655 1001 689 974 644 974 672 1028 643 980 660 982 628 1021 618 971 679 1027 628 1028 674 1015 671 1016 631 1008 617 1035 612 1001 629 995 673 1032 632 1005 632 974 621 1002 616 981 654 1004 609 996" style="marker:url(#k10)"/>
<polyline points="443 645 481 563 445 562 437 593 447 568 383 560 386 592 434 609 381 591 770 783 789 807 764 734 779 803 722 691 758 691 836 756 794 710 812 815 709 787 824 749 821 768 834 795 823 718 779 733 667 815 729 750 680 836 776 750 779 715 810 790 746 800 883 757 876 765 868 776 859 774 894 770 880 783 847 749 885 776 846 764 903 776 834 782 852 799 909 770 841 758 844 787 894 773 875 792 864 755 864 753 878 762 851 751 856 753 904 777 836 763 863 798 833 751 902 759 847 782 852 792 855 755 850 752 853 755 292 685 327 766 171 744 288 731 234 685 336 778 204 798 205 728 263 798 204 787 196 700 183 719 206 666 237 792 292 700 288 744 202 722 220 762 247 672 342 768 347 717 362 723 165 768 260 694 171 761 348 714 267 731 193 754 314 754 267 732 289 764 347 750 357 721 203 800 202 681 305 757 223 745 176 719 211 672 256 778 213 707 335 774 292 674 371 740 324 746 187 789 289 790 313 762 282 757 367 694 270 676 244 704 255 689 288 722 310 692 276 722 312 707 323 771 246 672 148 768 369 699 335 786 265 734 367 706 174 781 220 768 324 753 206 686 308 692 172 742 266 704 225 731 281 758 228 734 204 733 175 737 301 685 240 784 179 803 377 779 251 690 249 664 249 777 282 693 328 705 348 690 326 740 210 756 161 729 332 720 172 713 225 718 374 714 217 693 369 770 187 725 309 766 236 774 277 658 215 728 217 765 281 686 159 758 177 707 287 678 164 753 304 689 156 749 196 673 381 731 257 753 221 750 270 688 361 718 276 683 352 770 314 754 313 716 280 666 217 707 241 751 199 714 168 697 245 730 192 781 350 778 248 681 203 761 291 752 160 777 146 726 175 753 164 713 164 716 175 738 141 751 171 733 170 708 149 726 152 739 168 760 181 745 176 770 171 742 324 754 307 766 373 711 344 768 325 751 340 785 332 721 312 760 350 762 343 719 331 753 331 715 343 776 329 787 343 784 345 755 343 785 307 728 306 753 363 694 301 713 320 757 319 681 348 742 371 750 320 702 351 783 339 775 354 785 296 681 233 715 232 683 220 706 243 703 268 679 232 681 291 695 218 691 267 686 262 677 236 674 225 725 263 696 248 676 226 694 206 672 274 716 281 692 263 701 267 661 235 700 277 676 236 696 255 691 285 905 184 847 280 850 191 876 278 869 202 838 258 840 265 882 308 837 220 874 228 927 287 844 184 836 216 848 262 868 216 889 241 897 313 900 160 821 160 869 219 908 162 894 193 919 311 857 308 888 313 857 219 883 175 851 143 875 263 928 205 899 145 832 182 883 170 905 292 891 182 883 313 820 156 820 156 859 223 832 190 887 200 918 191 910 266 891 225 898 149 848 253 926 314 923 280 855 210 840 180 843 308 913 287 872 235 819 313 908 252 862 256 904 237 913 222 835 158 848 259 920 252 838 315 834 285 813 203 841 175 830 288 824 265 919 300 917 197 828 289 854 264 872 198 817 213 839 208 918 204 833 302 905 222 893 302 911 237 913 215 900 168 887 194 837 252 900 209 859 158 896 157 887 178 830 247 908 296 887 281 829 205 828 231 852 289 857 228 858 262 830 256 839 200 854 143 848 287 912 238 900 198 887 162 838 199 917 274 836 261 840 203 859 310 855 297 868 264 887 308 861 191 881 200 886 215 918 226 875 191 887 237 839 247 895 304 829 266 927 172 858 262 813 203 859 227 924 296 917 154 871 174 864 205 873 190 921 290 838 204 896 169 857 276 859 270 819 239 864 246 868 269 852 311 862 262 852 297 888 296 877 265 884 278 887 258 887 267 835 281 869 277 850 315 877 263 868 260 882 282 843 279 883 269 827 249 846 283 856 197 825 175 857 200 889 196 890 163 872 183 903 195 837 182 827 154 833 185 833 197 873 184 882 165 883 163 876 174 870 180 821 169 871 176 892 166 889 340 817 356 889 360 873 497 717 511 721 486 696 486 683 512 725 501 684 506 708 470 707 571 704 534 720 530 683 513 727 531 690 512 701 493 714 502 688 556 709 488 724 528 730 521 718 506 706 562 718 555 690 488 709 477 701 540 688 506 701 501 684 536 689 543 694 505 693 492 700 495 692 485 700 507 679 518 679 485 681 491 694 504 699 488 701 474 700 466 712 493 709 438 762 392 754 434 763 396 727 432 767 457 764 382 748 450 731 453 774 385 722 421 760 390 750 457 790 453 717 429 762 431 746 441 715 422 744 386 817 445 876 417 805 390 847 488 863 386 812 504 812 366 838 373 874 483 888 384 849 444 880 462 796 404 831 438 913 502 814 465 795 413 891 370 800 445 842 377 895 435 885 377 824 410 858 451 850 394 836 471 881 361 851 385 847 488 843 415 884 422 850 476 885 386 834 442 892 477 891 451 874 423 741 413 736 451 731 420 738 407 729 411 740 408 848 368 820 435 804 360 800 420 814 549 732 549 760 544 751 540 764 549 777 444 991 479 964 429 971 475 955 439 945 501 959 487 977 439 932 499 938 469 919 500 953 465 921 473 957 459 943 436 943 492 967 497 938 459 932 456 939 503 947 485 982 466 964 452 977 511 966 472 949 473 980 484 995 510 955 441 941 488 965 443 930 472 925 480 974 481 979 453 969 480 980 672 941 583 983 607 966 541 1008 597 1013 662 937 583 1037 575 895 614 996 550 1015 652 1040 560 895 670 959 604 956 523 932 583 946 539 956 657 1035 648 1040 680 1025 639 927 576 1001 577 891 664 1018 549 957 576 937 658 936 627 981 686 1015 644 999 604 919 538 999 629 1031 540 984 589 1031 594 932 658 1003 533 983 603 991 631 917 664 989 636 1014 588 1017 607 986 589 941 584 991 659 972 611 1038 684 959 672 1023 666 928 588 971 656 961 670 945 586 962 600 871 660 932 656 1016 659 1032 614 1002 557 898 565 892 655 1030 617 1027 611 1017 678 988 618 895 539 879 650 921 641 997 690 1019 656 963 624 997 541 997 567 1005 585 922 620 1045 683 996 685 994 615 1011 633 1029 660 960 682 976 617 990 686 988 649 986 620 1013 685 1004 618 1009 629 961 610 980 676 1023 692 1000" style="marker:url(#k11)"/>
<polyline points="600 776 643 774 704 668 665 672 636 658 668 640 581 703 585 767 684 656 607 685 583 660 614 660 632 631 782 640 779 632 743 611 790 641 793 617 771 664 847 680 721 663 753 653 809 745 714 761 823 794 809 823 694 788 697 741 701 818 710 800 746 746 796 818 708 731 731 742 747 784 821 776 840 815 776 804 791 715 814 712 785 782 740 706 767 739 822 789 782 802 725 738 721 769 707 828 764 700 783 791 709 740 757 802 793 782 712 666 697 781 764 716 690 811 732 815 748 764 734 700 751 783 667 786 782 816 807 777 743 692 809 726 799 740 834 729 874 758 872 792 845 764 856 780 855 773 899 789 858 759 881 762 882 799 873 764 886 802 825 778 856 798 869 796 838 786 853 765 888 765 821 755 885 792 847 759 881 791 901 794 879 746 839 757 831 781 843 772 847 744 863 761 897 766 843 787 832 754 877 770 877 778 874 783 832 791 871 754 900 756 858 797 866 768 865 783 179 748 283 700 281 680 225 760 298 717 178 732 257 776 325 683 148 750 173 721 310 752 369 748 340 762 188 699 378 730 243 702 285 752 216 691 265 764 190 780 273 708 231 692 251 689 335 763 303 747 356 779 214 717 377 747 210 770 337 756 189 678 302 784 286 701 356 709 278 764 266 764 189 737 314 754 335 785 228 743 330 709 171 730 263 785 242 718 175 761 174 711 360 697 351 783 255 725 202 692 321 770 215 789 210 695 326 744 377 766 269 722 298 727 140 716 374 733 300 778 328 760 222 704 208 769 363 789 293 675 259 712 308 790 250 724 353 693 368 740 175 756 356 721 194 785 168 756 253 798 353 786 164 741 349 749 253 709 277 756 310 792 342 710 217 673 304 751 275 762 256 722 379 694 281 754 169 772 198 768 326 761 367 709 176 745 153 733 153 740 189 730 168 751 355 748 315 781 378 762 346 770 308 751 344 713 343 698 307 699 269 698 291 696 234 709 241 660 272 689 272 712 274 704 258 717 211 704 281 679 282 703 250 660 201 669 265 686 222 710 215 682 264 663 235 688 282 702 266 693 250 676 269 717 230 702 303 906 266 879 232 891 157 897 282 922 240 882 166 823 209 857 289 822 201 829 293 860 316 887 224 880 207 837 160 822 166 834 190 834 303 863 274 900 156 863 159 862 274 905 176 827 144 836 154 837 214 901 223 911 289 820 190 920 299 919 312 863 176 870 265 920 242 844 159 832 243 833 292 851 248 905 200 915 308 818 271 921 181 842 242 884 299 872 221 843 311 858 279 921 230 888 171 828 275 908 231 901 238 908 206 908 309 909 238 892 218 844 245 902 254 874 201 830 181 864 291 879 164 827 260 906 155 860 299 862 312 854 258 886 263 838 236 884 249 866 247 883 317 876 283 857 299 834 263 878 300 862 269 867 161 882 185 906 171 883 185 855 172 856 157 877 176 834 167 907 198 820 169 887 154 827 173 855 159 844 153 836 353 840 350 838 563 733 556 684 522 699 535 709 494 720 471 706 482 727 492 732 473 705 528 706 537 719 531 703 551 680 520 692 523 685 536 684 552 716 543 695 487 685 483 702 522 686 493 680 473 715 495 704 505 676 488 682 452 770 460 748 462 761 463 779 458 750 431 754 457 737 466 778 382 776 437 721 491 855 454 841 472 814 407 890 485 797 506 899 506 885 429 815 494 786 467 829 500 877 506 832 400 802 469 826 442 826 463 893 392 816 508 834 479 828 374 866 418 892 397 848 443 802 490 875 385 869 420 811 354 830 513 847 412 846 375 815 520 859 472 894 380 851 481 849 479 898 384 869 446 884 470 879 390 857 436 888 411 897 455 879 382 852 394 866 469 887 397 888 448 877 414 737 429 740 427 737 412 717 407 736 416 734 407 729 386 806 361 870 574 760 539 781 570 789 544 748 452 925 444 946 476 970 456 937 444 960 431 978 428 942 493 941 443 933 469 993 470 926 466 973 501 948 513 949 438 928 458 962 448 975 492 989 456 952 452 978 453 993 486 923 431 945 445 948 472 938 468 983 493 940 426 960 480 946 426 963 451 983 501 949 470 928 498 987 490 983 474 992 548 914 666 954 600 909 570 987 592 931 678 965 620 1036 663 1008 588 1003 612 991 639 961 557 922 665 975 635 974 611 1020 633 996 594 938 653 967 563 909 699 993 577 894 555 945 690 974 667 1037 568 903 633 1038 526 912 587 995 579 1029 628 912 701 1009 620 1020 665 962 549 1014 575 919 615 962 657 990 646 987 595 936 592 953 607 999 628 1028 663 971 692 997 582 886 555 1019 628 1033 645 1009 635 879 674 991 612 937 652 900 655 910 633 922 622 982 615 893 541 962 615 1005 636 949 653 1042 605 887 580 914 533 934 542 995 704 1001 557 944 613 976 642 931 666 1000 620 989 580 1039 631 964 534 922 612 954 663 923 628 1021 666 1029 666 1025 631 1004 617 1018 642 971 656 1014" style="marker:url(#k12)"/>
<polyline points="844 753 825 761 839 762 883 769 843 754 902 783 874 738 865 776 840 758 853 762 852 792 882 797 863 760 886 768 535 798 570 753 548 770 544 779 158 719 187 745 323 684 233 666 272 720 336 760 200 767 295 737 156 720 315 740 166 729 186 721 224 762 301 730 282 683 288 715 242 696 165 741 239 782 211 763 208 688 300 737 261 697 186 764 240 772 222 773 361 720 168 737 328 786 355 775 302 727 248 704 206 750 323 691 223 801 367 714 281 758 313 680 272 680 303 753 186 758 308 740 316 754 310 759 198 793 257 712 290 740 189 721 287 729 168 729 262 762 347 729 219 786 308 759 207 779 234 706 160 705 261 701 376 701 288 709 262 705 380 717 228 698 232 771 340 770 228 778 220 780 273 700 369 709 167 748 250 719 305 747 269 781 190 789 230 651 313 754 274 709 229 672 273 690 358 726 216 708 317 679 316 728 173 722 339 767 242 711 278 767 208 768 328 765 295 766 240 692 350 715 265 730 241 709 290 739 303 719 216 789 321 778 228 699 346 738 382 726 238 707 242 725 292 751 317 755 321 696 174 742 157 754 183 759 158 718 173 720 183 720 178 736 163 718 173 732 179 774 176 756 156 744 185 740 173 744 152 750 178 767 169 747 166 737 144 721 160 764 342 728 335 704 354 752 357 759 328 751 332 780 375 746 325 720 367 714 343 724 379 732 353 744 327 782 380 712 347 755 317 719 338 752 319 725 301 715 355 726 376 738 369 756 351 769 352 762 307 731 321 716 344 732 320 771 351 781 363 720 370 759 307 749 374 708 315 727 335 760 376 715 290 676 244 697 215 696 266 679 231 681 228 681 273 720 284 691 215 696 275 700 296 716 267 666 233 709 214 700 259 710 246 673 274 668 229 652 279 663 289 719 204 674 227 704 240 707 212 713 251 704 231 711 213 690 271 708 284 666 302 713 234 702 252 680 257 686 207 716 267 714 278 660 240 716 221 676 252 657 287 676 212 699 207 668 249 718 282 687 238 707 251 703 268 674 291 680 231 717 225 703 265 670 218 693 259 710 257 673 264 663 228 687 256 669 265 695 236 689 221 718 285 686 200 688 225 696 256 691 224 847 299 821 228 887 328 884 160 838 298 877 257 919 302 822 213 917 224 859 286 918 167 824 263 824 210 869 304 858 280 849 154 851 166 835 261 899 195 858 162 846 264 919 273 920 259 918 303 861 204 844 232 879 221 901 234 894 282 925 178 873 212 929 289 823 213 840 149 848 156 821 180 860 167 823 254 914 253 900 194 839 248 894 264 837 179 870 154 832 262 818 265 900 316 865 277 896 252 912 310 869 188 873 164 841 227 852 274 834 168 825 240 904 251 877 254 813 243 889 302 814 293 890 191 864 269 828 220 898 304 828 216 847 246 881 224 858 294 892 291 813 290 820 161 837 151 834 320 867 154 840 268 842 207 910 181 816 223 904 225 871 228 859 274 830 197 851 165 823 274 833 189 856 215 860 252 896 307 883 203 863 274 841 241 902 238 872 254 888 153 821 209 910 245 910 242 876 178 867 153 830 259 821 280 910 303 810 285 819 207 913 305 891 171 819 311 854 279 879 288 868 253 846 242 844 292 873 304 842 258 870 289 856 285 870 226 870 270 866 314 869 254 830 276 871 261 867 312 885 309 850 250 851 248 870 271 837 265 839 309 865 242 862 259 880 258 838 274 879 204 911 183 856 170 831 199 881 190 906 152 838 168 871 156 877 187 837 152 875 192 828 148 851 192 826 176 887 156 874 203 840 194 882 197 831 198 853 154 857 174 889 158 898 178 858 200 823 173 878 172 820 188 832 200 887 200 862 195 892 180 836 162 839 192 857 201 858 168 831 185 840 155 852 198 880 193 885 165 888 194 861 150 869 358 847 336 890 329 841 471 692 499 727 554 729 513 713 557 721 542 731 500 731 534 729 543 734 486 683 511 694 562 689 474 715 468 705 470 718 536 724 554 715 551 683 525 712 494 696 500 684 533 689 501 680 557 719 539 677 526 689 504 734 518 691 495 698 532 716 480 684 530 683 553 684 547 696 493 729 535 697 565 695 546 683 542 701 549 696 467 709 529 718 468 717 488 679 491 694 470 695 490 706 483 680 475 693 409 765 404 723 465 796 444 782 431 756 441 778 408 785 389 719 406 790 436 713 427 779 392 766 439 774 450 727 397 726 460 774 430 756 447 751 411 762 459 796 470 746 439 778 439 784 424 746 427 761 400 733 395 719 412 772 505 897 446 813 373 825 407 912 446 787 432 811 443 900 441 832 430 881 413 808 375 823 512 825 425 822 362 799 474 832 469 849 363 827 410 870 505 856 497 830 473 840 377 819 464 895 418 885 409 845 455 875 461 839 382 911 444 836 426 848 353 856 360 863 401 907 445 867 443 853 402 890 430 846 435 832 460 898 458 841 491 844 378 871 374 869 423 842 421 823 453 807 424 793 488 810 348 841 406 895 373 834 354 817 379 887 451 868 395 801 466 831 361 899 453 806 505 791 393 801 347 807 504 826 461 794 485 895 488 838 378 838 451 855 485 800 454 831 351 864 501 890 504 839 413 812 416 866 364 868 369 879 463 845 525 868 376 815 373 806 418 868 426 837 437 813 485 901 438 875 442 808 449 865 466 821 428 908 376 811 382 874 422 886 478 857 413 842 431 842 478 877 461 854 456 877 395 850 446 882 430 880 419 740 422 737 436 733 434 749 435 714 426 731 421 742 409 723 414 747 421 753 415 729 414 737 421 730 419 752 446 737 418 748 407 740 410 733 423 728 447 761 408 817 379 821 402 848 386 817 358 803 394 802 425 838 382 863 395 847 409 863 557 759 535 756 564 748 466 973 449 921 489 950 476 941 506 955 443 963 498 932 432 956 455 979 469 971 436 952 444 941 435 935 464 958 475 979 497 985 452 990 443 947 424 969 476 941 435 944 473 940 432 972 496 985 478 979 443 959 508 959 454 924 487 936 482 944 428 966 452 921 503 964 497 944 497 985 493 971 490 990 466 989 446 927 475 934 429 967 452 951 457 958 441 988 452 993 447 994 466 929 500 984 468 936 470 964 461 927 447 970 469 983 483 949 473 980 484 963 431 933 460 929 508 948 483 985 485 967 444 934 483 956 449 958 431 975 493 932 446 968 477 979 470 955 463 929 421 956 421 958 458 960 490 953 432 956 473 986 496 977 477 991 435 956 447 956 451 975 454 951 421 970 452 983 468 971 447 929 456 995 449 927 428 942 485 950 454 923 492 975 436 932 497 928 497 942 432 967 455 942 470 936 482 986 445 940 463 985 444 938 483 953 460 956 475 979 503 934 437 944 423 949 464 976 467 922 453 931 460 951 543 1007 642 897 555 1010 655 996 569 894 611 1040 577 996 673 1006 680 962 654 931 647 927 679 965 604 943 646 1033 561 990 681 995 629 931 576 911 589 1027 630 885 648 988 598 989 648 1043 657 912 669 962 564 884 682 1004 589 1043 577 1036 584 1018 556 941 673 1027 632 971 540 927 692 987 607 944 666 956 667 987 541 929 622 925 549 894 597 1012 623 1000 678 1012 682 990 583 886 641 1018 709 1020 619 925 606 1031 554 924 557 918 648 987 618 976 671 947 577 920 680 1021 547 923 679 998 551 1018 621 886 552 993 548 963 688 1027 623 944 682 997 575 983 550 912 598 889 622 1011 663 951 550 989 612 941 547 957 698 986 676 995 613 931 572 1003 653 928 598 929 581 879 625 903 597 1026 679 985 571 1015 602 914 582 971 579 1024 626 968 547 927 608 992 656 946 641 987 623 1024 574 1003 583 982 635 993 600 943 602 988 574 907 624 963 583 929 546 991 643 964 651 945 567 1020 550 1015 560 926 644 984 544 905 631 962 561 961 625 940 526 913 562 919 575 1035 670 1030 603 891 583 899 647 921 528 984 621 1020 597 1001 591 950 595 998 677 956 638 963 570 1029 585 908 637 1005 545 1008 670 1017 642 961 594 1016 635 952 693 1003 576 970 630 914 599 998 651 935 668 996 566 898 606 923 543 911 621 953 591 995 651 955 546 908 568 921 636 1006 592 1003 642 953 644 927 661 1028 594 885 542 967 539 881 646 1024 543 924 676 932 536 897 565 988 555 966 595 1005 595 993 575 929 625 921 535 898 573 987 637 895 608 945 577 923 647 938 532 896 593 954 571 993 668 966 618 892 606 943 644 1028 553 926 592 931 593 970 527 971 638 849 647 837 597 887 614 849 617 912 577 813 614 875 622 867 619 878 622 860 678 903 577 841 596 828 657 886 587 858 654 967 607 963 630 979 634 1009 619 1006 647 1019 634 993 590 962 682 993 680 1016 672 986 676 965 643 972 647 987 684 980 669 991" style="marker:url(#k13)"/>
<polyline points="166 741 264 702 300 694 207 717 273 692 221 711 248 722 360 723 272 690 261 663 329 765 345 700 166 752 264 702 247 703 228 712 209 710 317 783 255 718 230 698 297 726 342 766 223 697 215 782 253 684 317 693 236 719 211 711 218 710 263 775 285 746 164 735 202 731 221 686 149 703 223 773 218 765 284 683 393 729 221 776 261 775 335 772 236 730 250 728 214 726 279 757 250 760 278 686 219 788 249 720 235 664 349 776 160 727 210 692 235 679 282 752 318 695 166 721 302 737 239 664 271 766 151 716 182 720 303 681 207 772 208 685 213 780 255 695 274 695 173 719 259 777 189 738 253 755 224 791 210 766 232 676 215 783 315 706 353 688 196 674 325 744 322 718 306 689 246 719 230 696 220 786 255 781 271 700 206 725 210 786 293 664 312 741 363 780 184 741 186 754 353 738 296 728 173 778 238 669 265 666 306 735 255 784 193 727 165 726 320 782 164 709 184 777 278 695 197 685 371 748 358 708 250 679 260 760 191 744 335 767 349 718 154 739 217 778 218 752 219 676 166 734 324 718 319 780 174 761 244 705 163 715 158 711 206 668 175 739 344 725 251 710 231 710 173 736 279 753 278 702 363 734 193 741 151 756 308 741 348 793 155 773 356 731 293 696 252 696 170 745 240 791 155 723 167 753 323 756 161 737 162 734 165 732 172 751 177 763 171 759 175 719 171 750 182 764 148 757 179 740 161 762 165 743 315 700 323 728 305 752 317 683 331 732 350 729 371 741 309 776 352 720 356 741 354 692 380 705 369 737 318 702 364 720 346 773 327 701 364 749 377 739 356 769 372 704 361 704 368 696 318 751 309 710 332 702 348 719 341 735 324 741 317 720 304 720 343 695 363 711 350 706 321 688 303 786 344 705 297 722 291 703 212 699 257 656 270 666 258 692 269 699 231 680 222 679 221 723 220 689 267 716 215 682 283 684 302 700 238 695 290 713 217 659 235 672 251 718 271 707 273 675 261 675 255 692 248 720 265 713 223 710 225 671 258 692 223 666 259 664 212 695 265 720 284 707 269 711 238 685 288 684 286 701 287 659 208 680 234 656 289 683 288 688 263 719 241 660 251 717 233 710 243 695 216 700 261 669 260 688 266 713 297 703 300 697 294 700 242 680 255 702 269 693 290 666 213 695 227 670 287 666 247 719 245 920 296 846 323 848 211 877 235 905 261 902 256 823 221 912 206 897 234 890 284 887 262 893 226 912 281 834 229 902 243 886 309 847 168 829 255 820 171 863 231 887 175 873 168 823 245 828 281 827 197 885 216 919 282 918 145 860 273 899 221 928 295 821 278 846 196 865 211 830 303 882 194 830 168 812 153 868 242 917 259 825 203 844 196 847 260 873 274 832 308 882 207 912 260 826 193 873 276 841 287 889 285 889 219 858 216 928 229 902 190 858 259 836 218 867 181 844 194 869 264 908 288 908 233 897 191 881 216 925 271 844 248 910 268 871 304 860 282 837 185 812 206 907 313 876 205 922 253 915 284 891 277 898 243 914 257 839 307 825 188 899 188 845 308 889 202 853 151 849 236 894 206 878 205 922 223 837 249 878 231 869 217 846 181 826 249 903 178 821 164 816 277 851 293 880 319 867 260 915 193 887 245 910 294 881 215 893 296 885 156 867 276 868 227 836 244 888 273 824 318 873 275 924 314 866 320 854 205 910 260 824 211 910 229 854 298 866 248 907 269 892 143 856 280 848 207 879 254 893 198 858 293 876 287 833 210 910 305 866 250 909 168 818 247 909 236 892 268 902 219 916 210 845 274 879 319 871 204 856 262 887 221 903 203 837 275 894 275 833 177 824 295 872 277 888 283 901 158 844 280 909 304 888 240 844 288 830 161 857 187 812 266 915 252 898 164 890 200 839 283 877 253 912 183 857 276 828 190 865 195 861 265 845 210 898 273 913 240 899 248 849 249 847 292 873 312 888 232 856 290 826 283 888 260 881 281 882 232 880 257 841 246 870 259 877 282 877 260 850 269 891 269 871 243 835 293 832 235 842 289 885 274 883 267 885 158 885 144 830 176 829 189 831 177 884 188 878 150 858 170 836 180 878 171 848 189 863 195 873 184 873 194 823 184 884 182 904 165 824 173 834 148 846 176 850 186 819 149 851 163 850 183 854 197 847 177 851 179 869 161 901 159 877 198 858 166 834 166 897 151 879 183 890 175 888 195 840 176 879 174 862 194 875 174 868 148 884 161 872 177 889 185 859 150 898 185 906 174 834 154 837 356 836 340 808 347 820 356 901 338 815 362 910 553 692 557 714 537 722 542 693 496 691 554 678 547 712 520 695 519 696 543 726 516 711 541 676 502 706 536 708 561 706 528 700 535 721 534 690 520 681 506 697 467 693 559 682 533 673 556 714 471 723 537 713 476 728 480 731 510 685 504 700 478 694 519 734 465 707 503 725 516 732 558 694 533 707 487 709 507 676 497 698 493 700 483 689 479 696 515 683 436 782 407 777 428 766 445 724 457 739 460 760 447 787 437 746 405 721 394 733 454 792 444 756 408 776 414 713 423 733 414 723 409 750 407 753 405 755 419 760 427 795 406 746 440 764 422 728 407 775 410 741 422 726 479 789 391 890 404 834 429 858 477 786 376 806 419 832 416 861 412 845 413 832 364 878 368 845 478 852 494 797 424 800 418 827 506 854 474 892 484 822 486 861 477 899 395 864 456 873 472 887 369 825 393 865 437 849 497 814 499 829 457 891 457 877 377 820 369 812 467 861 365 865 505 856 485 837 424 815 361 808 360 863 454 807 493 793 369 866 462 835 439 806 384 878 403 816 385 811 395 881 485 821 355 842 393 804 473 822 384 815 417 889 357 825 500 793 464 824 378 864 418 822 435 806 472 893 474 898 417 821 460 904 406 836 412 875 490 892 411 798 471 868 453 797 412 824 391 880 474 799 414 838 435 835 483 808 499 807 476 826 386 808 402 849 363 852 420 801 391 862 456 890 483 893 392 882 459 842 418 844 430 858 446 892 414 886 376 860 494 898 449 881 385 841 464 888 429 826 420 891 421 744 411 731 425 741 411 732 436 732 411 730 424 739 397 733 426 744 433 734 428 735 419 760 409 733 397 735 421 742 430 746 407 842 370 836 356 823 363 868 370 829 541 771 562 785 560 767 515 741 557 781 574 771 562 745 570 784 557 765 568 754 485 988 458 975 450 976 453 936 462 972 501 955 448 992 462 969 438 939 509 973 452 977 484 981 495 965 493 939 445 929 440 950 447 981 430 977 492 980 485 947 435 984 473 933 483 979 459 987 471 935 475 983 458 960 488 968 432 975 441 989 483 995 442 946 428 979 431 982 445 949 447 935 502 961 435 986 458 919 485 931 477 936 502 963 487 974 461 932 440 959 439 988 446 971 482 955 451 955 450 946 496 964 492 984 489 988 428 975 502 974 449 933 468 965 452 943 439 954 482 953 461 992 488 952 427 964 467 936 481 984 426 964 496 966 472 923 447 986 422 959 482 933 428 936 423 965 448 946 430 968 466 991 465 994 448 944 435 982 481 940 483 959 481 953 498 960 501 956 505 948 507 955 435 944 614 914 596 970 603 916 608 916 628 894 632 986 620 1014 670 1002 637 1029 640 958 674 1010 647 1038 588 943 560 985 621 907 541 954 633 905 590 916 529 964 561 892 599 883 547 889 625 1004 624 890 605 966 595 976 644 1012 531 917 566 915 568 924 573 992 581 1030 627 991 633 947 651 1040 674 972 695 983 566 1001 617 935 571 888 567 1021 620 1020 621 978 563 978 593 928 677 978 572 1020 614 984 628 991 573 887 676 978 702 998 566 974 624 953 671 988 591 982 649 905 644 974 549 985 582 1044 641 999 600 886 561 1005 614 1012 536 893 569 989 577 1027 530 970 548 982 619 985 606 993 611 1028 615 1030 638 926 566 936 613 1012 547 922 609 937 559 1003 649 942 695 982 556 935 650 1028 592 920 611 897 552 935 614 910 628 1004 652 950 686 982 524 915 557 973 610 896 565 1007 596 960 602 927 571 933 575 910 553 968 563 1026 663 1016 669 1041 659 1045 618 1008 567 931 549 910 667 1007 601 922 582 971 544 1012 682 967 617 964 607 1003 589 953 594 884 697 965 610 984 585 931 633 1018 615 941 591 910 653 922 559 979 592 911 613 1012 549 990 635 988 650 953 629 1026 546 963 564 901 681 1036 588 913 557 981 602 931 615 987 542 979 628 961 534 901 620 1024 618 888 663 974 570 902 640 966 670 981 635 1017 683 1014 564 920 616 949 670 938 570 932 623 949 656 954 633 893 591 1007 660 1012 535 985 656 992 618 885 572 921 622 994 596 890 697 996 611 997 659 963 678 999 647 907 631 1019 648 903 596 964 552 1000 633 892 553 878 660 938 559 935 618 917 615 901 656 996 606 913 623 929 680 968 581 983 660 993 545 991 620 1014 651 977 696 992 612 1023 653 1028 601 998 657 970 569 985 565 898 575 924 558 1024 587 1007 575 909 658 1035 604 949 631 911 611 1031 582 943 523 973 535 982 598 991 673 1036 603 924 561 1035 614 907 677 891 588 849 627 849 602 876 680 883 662 1010 681 1011 651 990 698 968 632 1015 650 998 634 969 688 1029 630 996 638 1029" style="marker:url(#k14)"/>
<polyline points="708 740 754 813 730 800 674 790 737 722 710 710 811 756 787 707 671 805 737 802 695 768 762 730 715 782 805 795 735 798 713 735 721 671 676 779 722 681 700 794 718 715 751 795 665 818 811 809 795 798 811 809 811 738 722 682 828 756 812 803 792 763 809 793 696 722 703 782 209 774 330 757 186 750 329 760 208 762 265 713 218 691 325 771 334 786 265 765 226 687 305 762 363 708 167 708 269 767 243 719 232 700 260 792 240 696 265 692 244 705 227 787 235 678 386 719 340 687 223 784 300 744 332 754 252 716 235 698 379 724 284 762 225 788 188 745 374 711 354 722 219 759 157 727 269 697 347 739 201 785 251 704 272 685 221 696 299 692 251 662 231 703 255 706 285 665 210 682 249 711 278 680 236 697 253 666 236 693 284 668 206 677 300 707 279 665 225 698 212 657 218 695 250 678 208 667 223 688 289 698 213 668 272 671 274 698 217 664 266 681 201 914 271 819 221 911 259 919 180 867 195 842 193 845 213 845 220 905 271 905 297 820 173 865 196 918 161 845 249 873 221 841 256 823 208 844 210 852 278 904 271 910 234 884 243 822 292 898 274 931 315 865 313 866 283 845 259 838 277 836 313 865 241 906 302 841 268 841 168 820 209 910 187 860 281 822 201 860 244 879 273 826 189 848 256 926 147 839 195 905 158 889 166 878 190 817 176 849 173 841 183 886 180 898 151 852 151 858 162 882 185 856 175 866 154 840 188 823 166 889 162 867 363 893 463 709 560 727 478 701 562 700 551 728 519 709 536 728 513 716 498 699 552 697 520 713 537 740 511 705 474 702 438 783 386 766 410 754 441 792 359 841 517 850 421 851 498 813 377 850 428 834 368 889 453 854 463 866 459 875 399 798 354 851 510 876 457 860 403 795 480 874 476 899 392 796 429 849 478 862 407 838 448 889 367 820 472 852 493 889 424 876 476 855 371 829 453 814 481 822 424 881 442 887 382 844 417 852 434 841 452 849 443 884 467 881 459 822 416 730 406 733 434 731 532 757 488 991 481 968 479 963 464 941 456 936 424 964 434 962 493 941 430 978 444 992 435 974 455 946 455 953 474 954 451 929 479 938 431 932 498 929 471 957 494 954 426 949 467 953 424 942 437 966 489 958 492 961 441 931 464 955 475 927 431 954 467 960 503 954 480 936 494 932 503 979 490 951 442 991 448 991 443 984 470 975 475 993 434 936 436 967 557 1015 534 913 655 988 602 1023 671 1005 593 1039 581 884 562 1027 610 958 672 969 630 980 590 923 592 870 638 982 676 961 598 892 664 965 559 923 562 1033 587 918 600 980 586 974 666 972 645 993 619 896 653 963 657 989 567 983 605 947 609 941 610 998 554 909 589 929 675 1014 622 1017 594 963 544 999 537 916 541 980 642 921 566 987 663 965 686 1006 582 1052 573 934 623 939 681 1020 616 989 584 999 626 887 669 1040 595 954 522 880 607 1030 638 1040 643 1045 555 899 628 987 583 1017 568 892 553 987 651 941 683 1009 533 1007 574 1033 584 1009 625 1003 627 976 684 964 560 911 679 987 609 1034 606 936 601 958 582 908 638 1004 556 1008 649 998 557 923 629 1041 617 941 624 959 565 920 556 902 573 885 566 973 621 932" style="marker:url(#k15)"/>
<polyline points="204 770 345 728 379 695 208 765 298 758 337 763 155 733 232 786 218 701 336 792 175 769 337 749 190 732 164 719 300 743 333 778 329 774 323 772 265 716 190 742 226 775 318 762 220 765 245 703 148 751 271 758 327 728 298 737 305 737 263 718 293 748 208 694 158 722 316 769 195 776 359 791 195 662 159 724 323 680 277 684 171 713 258 693 229 776 344 785 303 764 313 755 218 783 186 717 323 749 352 764 189 730 186 790 285 716 193 710 254 784 338 762 341 763 353 715 241 704 212 773 281 727 236 690 190 732 202 758 365 788 335 764 329 688 215 667 339 777 169 742 335 712 246 796 302 730 179 728 357 726 153 737 174 704 234 704 212 661 331 781 351 767 325 682 220 694 154 703 190 720 207 767 236 790 276 772 157 742 155 735 144 753 153 737 178 717 177 766 173 729 183 732 159 771 149 748 147 754 147 762 156 731 144 730 345 719 333 761 370 712 358 775 356 772 365 716 322 767 356 735 315 743 324 714 330 713 326 693 305 713 352 780 357 727 340 719 334 705 317 781 362 744 330 739 368 770 331 780 335 764 348 732 356 726 318 712 355 735 320 781 251 675 216 703 236 686 252 663 289 708 246 671 258 711 199 677 228 686 276 710 224 717 242 668 228 677 251 701 253 691 260 678 268 709 243 699 236 717 203 667 227 692 267 704 215 680 288 721 269 695 249 695 246 675 275 702 289 692 217 700 209 677 293 654 284 694 207 663 259 695 270 685 260 679 302 704 276 708 221 699 227 704 239 710 242 713 255 699 238 672 303 888 230 914 192 871 303 868 238 902 261 854 152 848 197 846 267 915 189 865 272 902 215 911 194 917 224 816 169 849 266 822 182 865 295 822 196 841 303 873 202 869 303 893 254 827 165 821 223 839 162 864 148 826 287 916 243 904 307 859 179 839 190 871 284 834 284 887 298 828 183 904 280 881 206 893 282 829 181 821 205 921 211 839 242 892 247 820 179 822 170 823 311 901 255 901 267 903 298 834 190 857 266 885 288 837 162 841 266 820 235 924 277 839 213 830 287 880 252 887 179 861 160 846 220 866 233 880 247 909 190 847 287 814 196 833 268 845 256 831 214 842 289 913 285 826 199 919 217 869 313 884 258 824 228 899 152 848 285 839 267 846 258 876 265 864 263 865 257 867 277 887 313 866 256 828 244 880 297 866 263 884 286 849 255 849 306 878 300 843 280 846 243 854 305 893 275 845 263 847 309 832 275 835 308 822 176 846 154 832 198 873 171 889 159 846 177 864 178 837 182 859 178 870 167 842 176 830 175 822 195 825 192 857 174 847 176 865 197 827 168 870 157 849 165 888 174 828 177 839 186 861 153 853 178 843 172 865 196 831 178 892 196 856 193 881 173 820 182 836 194 850 187 905 205 881 168 874 159 868 376 855 352 896 358 859 341 875 500 723 537 736 485 737 489 712 564 711 555 697 548 704 531 729 500 734 501 716 516 725 540 703 508 732 471 700 528 724 493 677 484 713 524 672 482 700 464 686 420 744 425 757 439 769 412 761 465 761 458 774 442 733 451 725 399 748 422 777 403 758 369 883 380 881 362 888 367 801 408 885 463 811 438 831 469 823 431 867 501 806 485 789 528 830 436 875 440 806 439 896 422 847 496 846 514 836 428 794 473 905 433 803 403 876 418 900 395 859 436 889 399 862 469 802 383 797 467 820 397 843 436 859 395 867 456 878 395 898 467 816 474 845 438 805 510 841 397 802 440 829 398 890 452 877 457 818 457 851 393 870 448 855 498 903 345 861 422 843 395 858 494 863 420 850 474 890 454 848 454 856 447 740 432 742 430 730 416 748 416 733 419 721 396 725 408 740 414 718 440 733 422 810 419 828 369 855 430 851 361 819 573 775 531 736 534 748 441 939 444 939 477 924 442 977 483 985 440 928 502 946 502 982 474 957 441 987 480 995 473 927 437 957 448 972 488 973 475 945 433 968 509 969 459 947 477 964 471 952 435 973 487 978 486 987 428 948 491 974 460 952 487 936 425 958 476 933 502 973 461 933 435 985 472 935 500 947 444 951 513 953 457 932 431 966 495 950 467 996 480 985 472 975 429 959 430 957 477 926 435 948 456 978 419 960 510 957 482 992 503 934 468 951 478 971 424 945 449 995 507 942 451 939 429 954 460 955 497 928 499 940 442 938 477 950 444 938 462 960 475 961 436 981 498 966 460 932 448 992 428 945 456 950 471 959 442 980 434 931 510 972 476 936 476 996 448 973 470 923 543 927 590 955 552 1024 527 919 638 1035 548 945 533 1009 597 927 523 933 679 943 662 945 566 921 645 939 618 1025 664 970 694 1008 627 1006 703 997 623 904 638 1032 668 1019 647 988 572 1008 539 887 609 965 532 988 626 925 582 945 593 965 616 916 660 971 543 943 658 982 566 1023 598 1009 642 981 565 1006 660 996 656 1004 545 939 632 1014 586 923 569 970 611 886 550 968 612 931 588 898 658 940 647 928 586 1016 564 876 575 985 539 989 628 890 644 932 667 1017 590 913 571 1031 567 993 538 933 650 1014 651 970 660 940 605 947 663 1022 544 953 546 960 560 979 609 900 593 991 616 889 627 1000 615 979 653 989 637 943 673 1007 694 1008 556 979 581 966 625 1017 593 1042 558 886 682 975 642 1029 635 888 606 903 577 1032 569 1015 609 1045 653 990 630 1013 598 997 593 1032 661 1038 572 935 604 925 593 899 642 1034 580 924 651 929 596 899 632 975 622 928 587 997 622 905 665 1009 647 990 606 906 655 926 645 918 572 1002 610 920 596 988 594 1035 581 924 643 992 645 1028 564 1018 688 978 646 999 628 944 648 1003 654 989 620 999 631 921 691 983 590 968 684 984 527 938 662 966 537 891 591 1021 580 886 620 972 643 964 663 1018 622 1012 611 959 645 994 618 1042 682 988 642 986 623 971 664 1021 622 1005 669 1005 649 1014 649 1000" style="marker:url(#k16)"/>
</g>
<rect x="44.5" y="198.1" width="469.0" height="342.4" fill="none" stroke="#333" stroke-width="1.2"/>
<path d="M95.2 540.5 v3.2" stroke="#333" stroke-width="1"/>
<text x="95.2" y="557.8" font-size="13" text-anchor="middle" fill="#1a1a1a">0</text>
<path d="M150.4 540.5 v3.2" stroke="#333" stroke-width="1"/>
<text x="150.4" y="557.8" font-size="13" text-anchor="middle" fill="#1a1a1a">2</text>
<path d="M205.6 540.5 v3.2" stroke="#333" stroke-width="1"/>
<text x="205.6" y="557.8" font-size="13" text-anchor="middle" fill="#1a1a1a">4</text>
<path d="M260.9 540.5 v3.2" stroke="#333" stroke-width="1"/>
<text x="260.9" y="557.8" font-size="13" text-anchor="middle" fill="#1a1a1a">6</text>
<path d="M316.1 540.5 v3.2" stroke="#333" stroke-width="1"/>
<text x="316.1" y="557.8" font-size="13" text-anchor="middle" fill="#1a1a1a">8</text>
<path d="M371.3 540.5 v3.2" stroke="#333" stroke-width="1"/>
<text x="371.3" y="557.8" font-size="13" text-anchor="middle" fill="#1a1a1a">10</text>
<path d="M426.5 540.5 v3.2" stroke="#333" stroke-width="1"/>
<text x="426.5" y="557.8" font-size="13" text-anchor="middle" fill="#1a1a1a">12</text>
<path d="M481.7 540.5 v3.2" stroke="#333" stroke-width="1"/>
<text x="481.7" y="557.8" font-size="13" text-anchor="middle" fill="#1a1a1a">14</text>
<path d="M44.5 513.1 h-3.2" stroke="#333" stroke-width="1"/>
<text x="37.2" y="517.8" font-size="13" text-anchor="end" fill="#1a1a1a">−8</text>
<path d="M44.5 471.2 h-3.2" stroke="#333" stroke-width="1"/>
<text x="37.2" y="475.9" font-size="13" text-anchor="end" fill="#1a1a1a">−6</text>
<path d="M44.5 429.4 h-3.2" stroke="#333" stroke-width="1"/>
<text x="37.2" y="434.1" font-size="13" text-anchor="end" fill="#1a1a1a">−4</text>
<path d="M44.5 387.5 h-3.2" stroke="#333" stroke-width="1"/>
<text x="37.2" y="392.2" font-size="13" text-anchor="end" fill="#1a1a1a">−2</text>
<path d="M44.5 345.7 h-3.2" stroke="#333" stroke-width="1"/>
<text x="37.2" y="350.4" font-size="13" text-anchor="end" fill="#1a1a1a">0</text>
<path d="M44.5 303.9 h-3.2" stroke="#333" stroke-width="1"/>
<text x="37.2" y="308.6" font-size="13" text-anchor="end" fill="#1a1a1a">2</text>
<path d="M44.5 262.0 h-3.2" stroke="#333" stroke-width="1"/>
<text x="37.2" y="266.7" font-size="13" text-anchor="end" fill="#1a1a1a">4</text>
<path d="M44.5 220.2 h-3.2" stroke="#333" stroke-width="1"/>
<text x="37.2" y="224.9" font-size="13" text-anchor="end" fill="#1a1a1a">6</text>
<text x="1.5" y="179.4" font-size="20" fill="#000">D</text>
<text transform="translate(18.2,357.2) rotate(-90)" font-size="13.5" text-anchor="middle" textLength="30.5" lengthAdjust="spacingAndGlyphs" fill="#1a1a1a">yaxis</text>
<text x="269.8" y="577.3" font-size="13.5" text-anchor="middle" textLength="30.5" lengthAdjust="spacingAndGlyphs" fill="#1a1a1a">xaxis</text>
<rect x="548.9" y="220.9" width="87.6" height="299.2" rx="3" fill="#fff" fill-opacity="0.8" stroke="#d4d4d4" stroke-width="1"/>
<circle cx="565" cy="232.6" r="2.5" fill="#1d2558"/>
<text x="586.8" y="235.9" font-size="13" fill="#1a1a1a">initial</text>
<path d="M560.8 249.9h8.4M565 245.7v8.4" stroke="#2a3270" stroke-width="3"/>
<text x="586.8" y="253.2" font-size="13" fill="#1a1a1a">inner1</text>
<path d="M565 262.9l4.2 8.2h-8.4z" fill="#303c8c"/>
<text x="586.8" y="270.6" font-size="13" fill="#1a1a1a">inner2</text>
<circle cx="565" cy="284.6" r="2.5" fill="#344e9e"/>
<text x="586.8" y="287.9" font-size="13" fill="#1a1a1a">inner3</text>
<path d="M560.8 302.0h8.4M565 297.8v8.4" stroke="#3762aa" stroke-width="3"/>
<text x="586.8" y="305.3" font-size="13" fill="#1a1a1a">inner4</text>
<path d="M565 314.9l4.2 8.2h-8.4z" fill="#3e7eb6"/>
<text x="586.8" y="322.6" font-size="13" fill="#1a1a1a">inner5</text>
<circle cx="565" cy="336.6" r="2.5" fill="#4a94be"/>
<text x="586.8" y="339.9" font-size="13" fill="#1a1a1a">inner6</text>
<path d="M560.8 354.0h8.4M565 349.8v8.4" stroke="#52a8c4" stroke-width="3"/>
<text x="586.8" y="357.3" font-size="13" fill="#1a1a1a">inner7</text>
<path d="M565 366.9l4.2 8.2h-8.4z" fill="#5cbac4"/>
<text x="586.8" y="374.6" font-size="13" fill="#1a1a1a">inner8</text>
<circle cx="565" cy="388.7" r="2.5" fill="#70cdc4"/>
<text x="586.8" y="392.0" font-size="13" fill="#1a1a1a">inner9</text>
<path d="M560.8 406.0h8.4M565 401.8v8.4" stroke="#84d6c4" stroke-width="3"/>
<text x="586.8" y="409.3" font-size="13" fill="#1a1a1a">inner10</text>
<path d="M565 418.9l4.2 8.2h-8.4z" fill="#9addbe"/>
<text x="586.8" y="426.6" font-size="13" fill="#1a1a1a">inner11</text>
<circle cx="565" cy="440.7" r="2.5" fill="#b4e4b8"/>
<text x="586.8" y="444.0" font-size="13" fill="#1a1a1a">inner12</text>
<path d="M560.8 458.0h8.4M565 453.8v8.4" stroke="#ceeab6" stroke-width="3"/>
<text x="586.8" y="461.3" font-size="13" fill="#1a1a1a">inner13</text>
<path d="M565 471.0l4.2 8.2h-8.4z" fill="#dbf0b4"/>
<text x="586.8" y="478.7" font-size="13" fill="#1a1a1a">inner14</text>
<circle cx="565" cy="492.7" r="2.5" fill="#e6f4b6"/>
<text x="586.8" y="496.0" font-size="13" fill="#1a1a1a">inner15</text>
<path d="M560.8 510.0h8.4M565 505.8v8.4" stroke="#eefacd" stroke-width="3"/>
<text x="586.8" y="513.3" font-size="13" fill="#1a1a1a">inner16</text>
</svg>
</body></html>
